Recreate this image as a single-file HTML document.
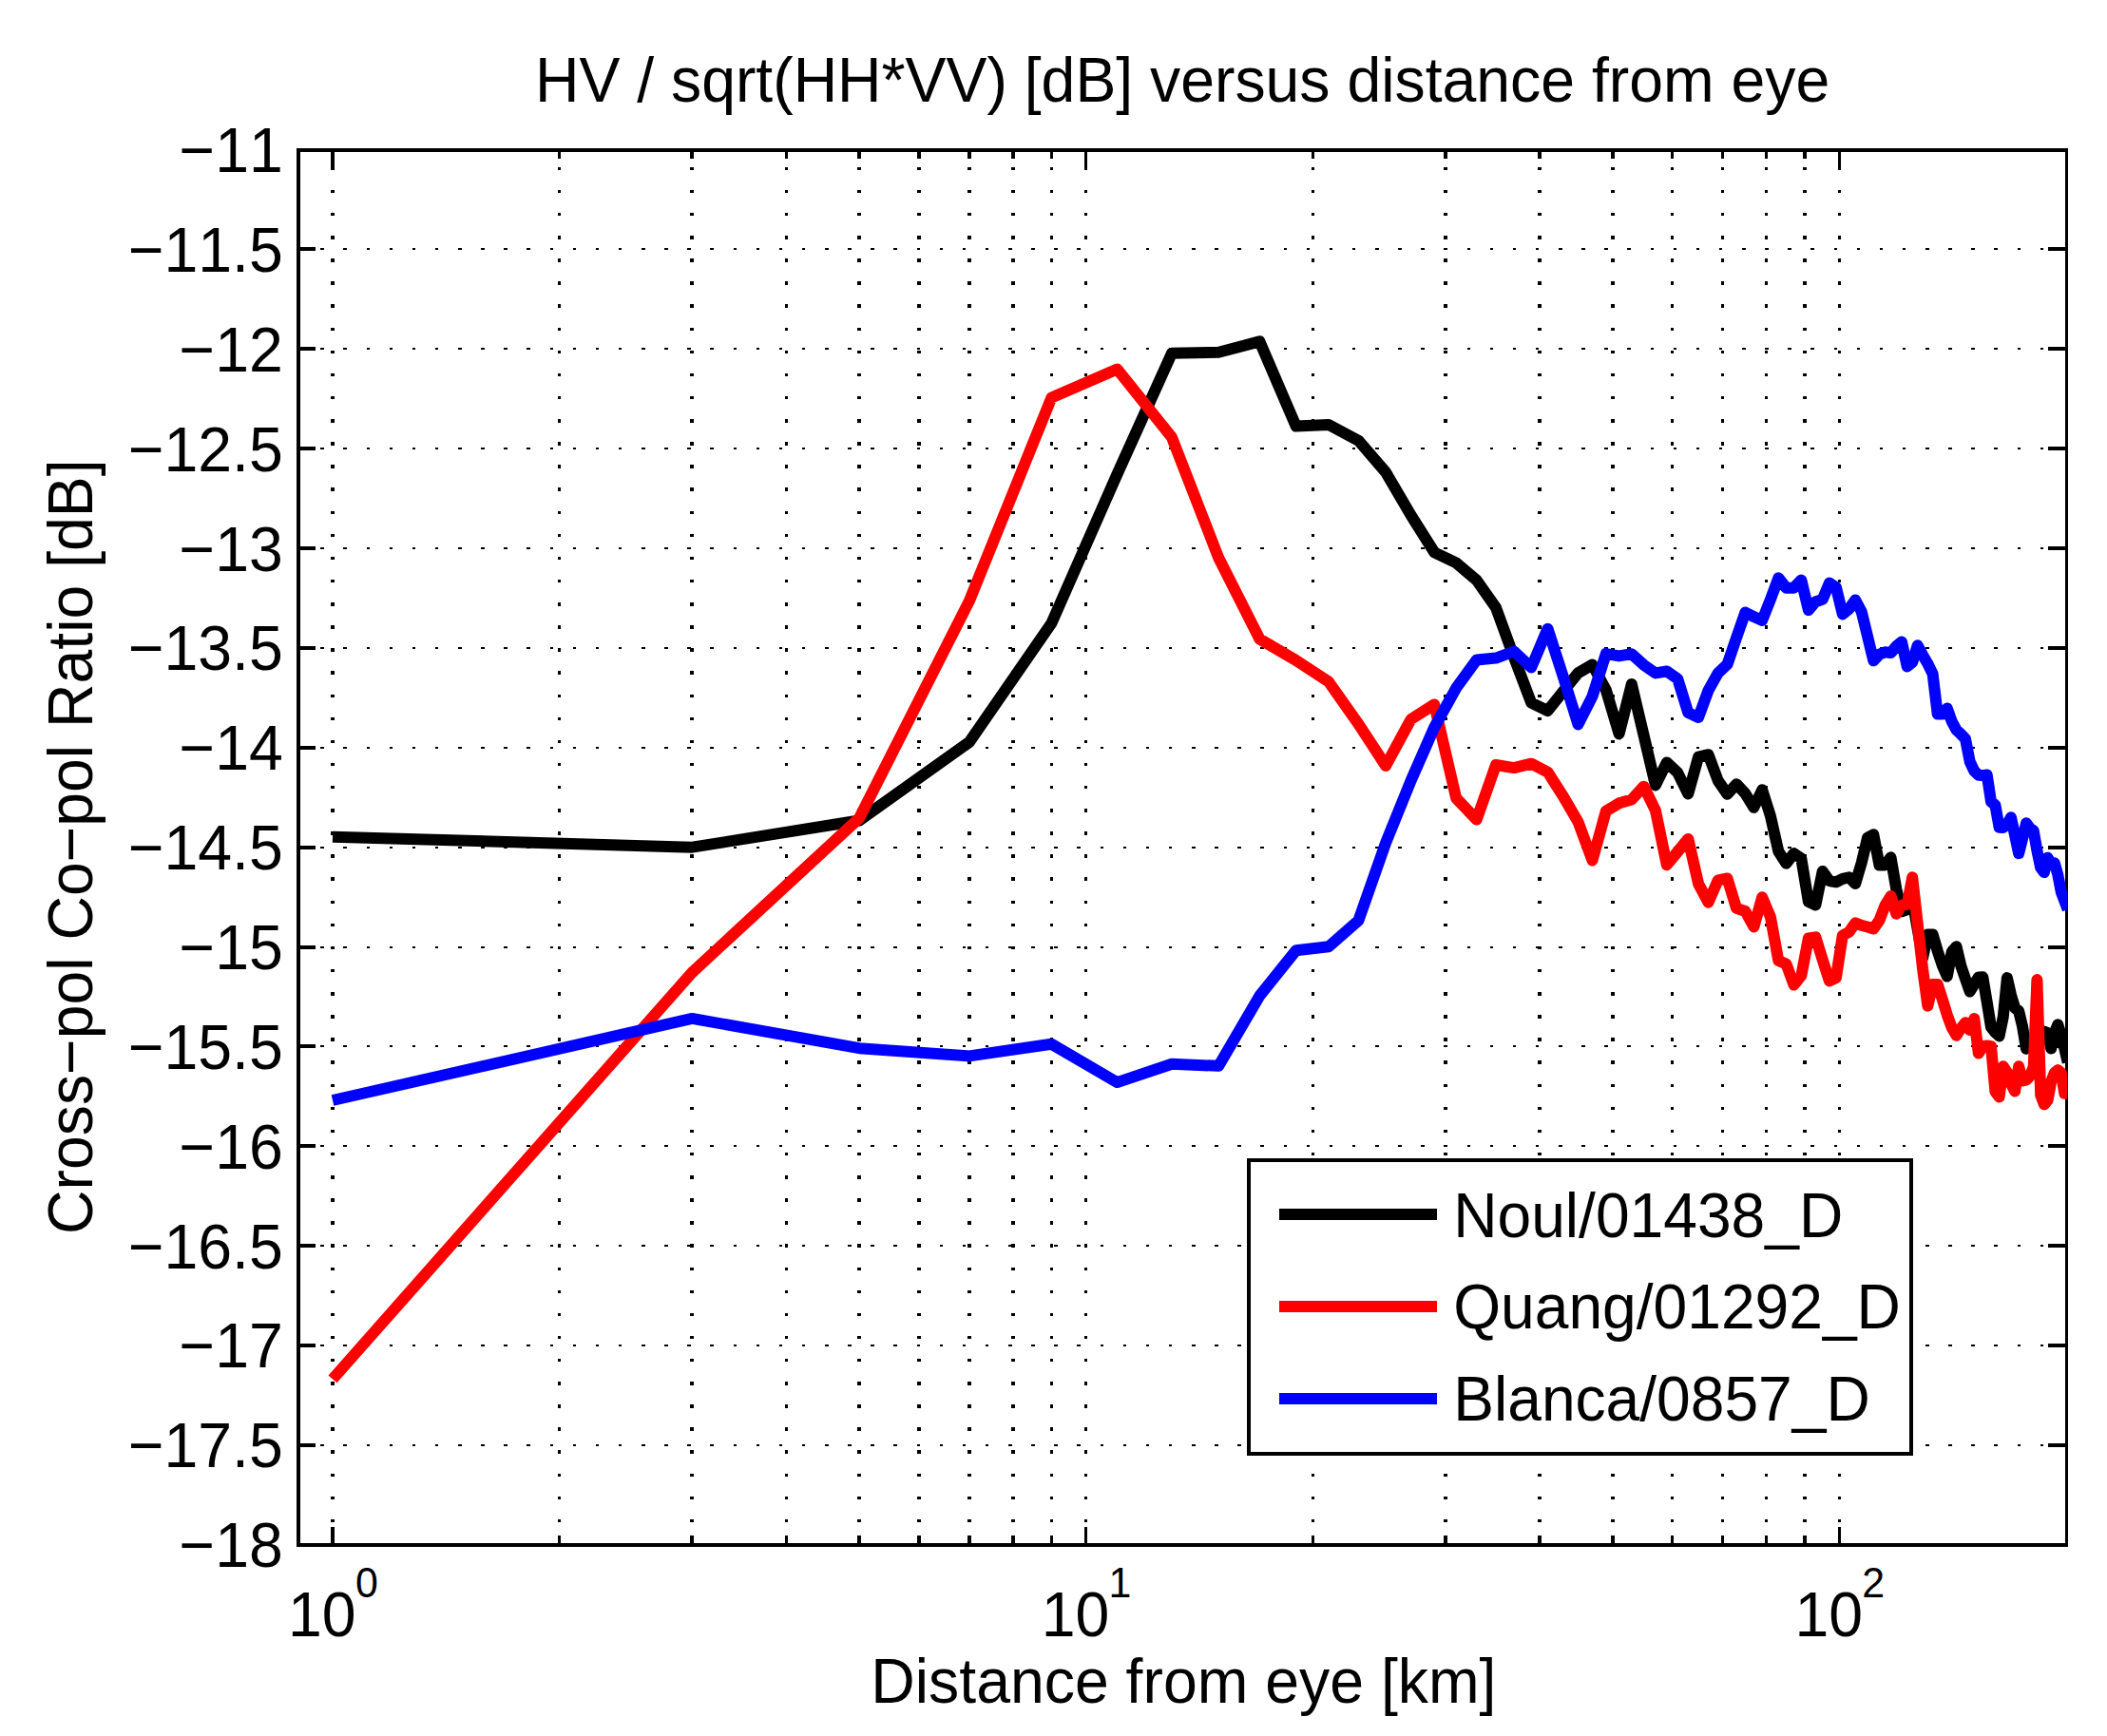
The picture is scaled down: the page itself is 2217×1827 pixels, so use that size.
<!DOCTYPE html>
<html lang="en"><head><meta charset="utf-8"><title>HV / sqrt(HH*VV) [dB] versus distance from eye</title>
<style>html,body{margin:0;padding:0;background:#fff;}body{width:2217px;height:1827px;overflow:hidden;}svg{display:block;}text{font-family:"Liberation Sans", sans-serif;fill:#000;font-kerning:none;font-variant-ligatures:none;}</style>
</head><body>
<svg width="2217" height="1827" viewBox="0 0 2217 1827">
<rect x="0" y="0" width="2217" height="1827" fill="#fff"/>
<defs><clipPath id="ax"><rect x="312" y="156" width="1863.3" height="1472"/></clipPath></defs>
<g id="grid" fill="#000" shape-rendering="crispEdges">
<rect x="348" y="176" width="4" height="3"/><rect x="348" y="200" width="4" height="3"/><rect x="348" y="224" width="4" height="3"/><rect x="348" y="248" width="4" height="4"/><rect x="348" y="272" width="4" height="4"/><rect x="348" y="296" width="4" height="4"/><rect x="348" y="320" width="4" height="4"/><rect x="348" y="345" width="4" height="3"/><rect x="348" y="369" width="4" height="3"/><rect x="348" y="393" width="4" height="3"/><rect x="348" y="417" width="4" height="3"/><rect x="348" y="441" width="4" height="4"/><rect x="348" y="465" width="4" height="4"/><rect x="348" y="489" width="4" height="4"/><rect x="348" y="513" width="4" height="4"/><rect x="348" y="538" width="4" height="3"/><rect x="348" y="562" width="4" height="3"/><rect x="348" y="586" width="4" height="3"/><rect x="348" y="610" width="4" height="3"/><rect x="348" y="634" width="4" height="4"/><rect x="348" y="658" width="4" height="4"/><rect x="348" y="682" width="4" height="4"/><rect x="348" y="706" width="4" height="4"/><rect x="348" y="731" width="4" height="3"/><rect x="348" y="755" width="4" height="3"/><rect x="348" y="779" width="4" height="3"/><rect x="348" y="803" width="4" height="3"/><rect x="348" y="827" width="4" height="3"/><rect x="348" y="851" width="4" height="4"/><rect x="348" y="875" width="4" height="4"/><rect x="348" y="899" width="4" height="4"/><rect x="348" y="923" width="4" height="4"/><rect x="348" y="948" width="4" height="3"/><rect x="348" y="972" width="4" height="3"/><rect x="348" y="996" width="4" height="3"/><rect x="348" y="1020" width="4" height="3"/><rect x="348" y="1044" width="4" height="4"/><rect x="348" y="1068" width="4" height="4"/><rect x="348" y="1092" width="4" height="4"/><rect x="348" y="1116" width="4" height="4"/><rect x="348" y="1141" width="4" height="3"/><rect x="348" y="1165" width="4" height="3"/><rect x="348" y="1189" width="4" height="3"/><rect x="348" y="1213" width="4" height="3"/><rect x="348" y="1237" width="4" height="4"/><rect x="348" y="1261" width="4" height="4"/><rect x="348" y="1285" width="4" height="4"/><rect x="348" y="1309" width="4" height="4"/><rect x="348" y="1334" width="4" height="3"/><rect x="348" y="1358" width="4" height="3"/><rect x="348" y="1382" width="4" height="3"/><rect x="348" y="1406" width="4" height="3"/><rect x="348" y="1430" width="4" height="3"/><rect x="348" y="1454" width="4" height="4"/><rect x="348" y="1478" width="4" height="4"/><rect x="348" y="1502" width="4" height="4"/><rect x="348" y="1526" width="4" height="4"/><rect x="348" y="1551" width="4" height="3"/><rect x="348" y="1575" width="4" height="3"/><rect x="348" y="1599" width="4" height="3"/><rect x="587" y="176" width="3" height="3"/><rect x="587" y="200" width="3" height="3"/><rect x="587" y="224" width="3" height="3"/><rect x="587" y="248" width="3" height="4"/><rect x="587" y="272" width="3" height="4"/><rect x="587" y="296" width="3" height="4"/><rect x="587" y="320" width="3" height="4"/><rect x="587" y="345" width="3" height="3"/><rect x="587" y="369" width="3" height="3"/><rect x="587" y="393" width="3" height="3"/><rect x="587" y="417" width="3" height="3"/><rect x="587" y="441" width="3" height="4"/><rect x="587" y="465" width="3" height="4"/><rect x="587" y="489" width="3" height="4"/><rect x="587" y="513" width="3" height="4"/><rect x="587" y="538" width="3" height="3"/><rect x="587" y="562" width="3" height="3"/><rect x="587" y="586" width="3" height="3"/><rect x="587" y="610" width="3" height="3"/><rect x="587" y="634" width="3" height="4"/><rect x="587" y="658" width="3" height="4"/><rect x="587" y="682" width="3" height="4"/><rect x="587" y="706" width="3" height="4"/><rect x="587" y="731" width="3" height="3"/><rect x="587" y="755" width="3" height="3"/><rect x="587" y="779" width="3" height="3"/><rect x="587" y="803" width="3" height="3"/><rect x="587" y="827" width="3" height="3"/><rect x="587" y="851" width="3" height="4"/><rect x="587" y="875" width="3" height="4"/><rect x="587" y="899" width="3" height="4"/><rect x="587" y="923" width="3" height="4"/><rect x="587" y="948" width="3" height="3"/><rect x="587" y="972" width="3" height="3"/><rect x="587" y="996" width="3" height="3"/><rect x="587" y="1020" width="3" height="3"/><rect x="587" y="1044" width="3" height="4"/><rect x="587" y="1068" width="3" height="4"/><rect x="587" y="1092" width="3" height="4"/><rect x="587" y="1116" width="3" height="4"/><rect x="587" y="1141" width="3" height="3"/><rect x="587" y="1165" width="3" height="3"/><rect x="587" y="1189" width="3" height="3"/><rect x="587" y="1213" width="3" height="3"/><rect x="587" y="1237" width="3" height="4"/><rect x="587" y="1261" width="3" height="4"/><rect x="587" y="1285" width="3" height="4"/><rect x="587" y="1309" width="3" height="4"/><rect x="587" y="1334" width="3" height="3"/><rect x="587" y="1358" width="3" height="3"/><rect x="587" y="1382" width="3" height="3"/><rect x="587" y="1406" width="3" height="3"/><rect x="587" y="1430" width="3" height="3"/><rect x="587" y="1454" width="3" height="4"/><rect x="587" y="1478" width="3" height="4"/><rect x="587" y="1502" width="3" height="4"/><rect x="587" y="1526" width="3" height="4"/><rect x="587" y="1551" width="3" height="3"/><rect x="587" y="1575" width="3" height="3"/><rect x="587" y="1599" width="3" height="3"/><rect x="726" y="176" width="4" height="3"/><rect x="726" y="200" width="4" height="3"/><rect x="726" y="224" width="4" height="3"/><rect x="726" y="248" width="4" height="4"/><rect x="726" y="272" width="4" height="4"/><rect x="726" y="296" width="4" height="4"/><rect x="726" y="320" width="4" height="4"/><rect x="726" y="345" width="4" height="3"/><rect x="726" y="369" width="4" height="3"/><rect x="726" y="393" width="4" height="3"/><rect x="726" y="417" width="4" height="3"/><rect x="726" y="441" width="4" height="4"/><rect x="726" y="465" width="4" height="4"/><rect x="726" y="489" width="4" height="4"/><rect x="726" y="513" width="4" height="4"/><rect x="726" y="538" width="4" height="3"/><rect x="726" y="562" width="4" height="3"/><rect x="726" y="586" width="4" height="3"/><rect x="726" y="610" width="4" height="3"/><rect x="726" y="634" width="4" height="4"/><rect x="726" y="658" width="4" height="4"/><rect x="726" y="682" width="4" height="4"/><rect x="726" y="706" width="4" height="4"/><rect x="726" y="731" width="4" height="3"/><rect x="726" y="755" width="4" height="3"/><rect x="726" y="779" width="4" height="3"/><rect x="726" y="803" width="4" height="3"/><rect x="726" y="827" width="4" height="3"/><rect x="726" y="851" width="4" height="4"/><rect x="726" y="875" width="4" height="4"/><rect x="726" y="899" width="4" height="4"/><rect x="726" y="923" width="4" height="4"/><rect x="726" y="948" width="4" height="3"/><rect x="726" y="972" width="4" height="3"/><rect x="726" y="996" width="4" height="3"/><rect x="726" y="1020" width="4" height="3"/><rect x="726" y="1044" width="4" height="4"/><rect x="726" y="1068" width="4" height="4"/><rect x="726" y="1092" width="4" height="4"/><rect x="726" y="1116" width="4" height="4"/><rect x="726" y="1141" width="4" height="3"/><rect x="726" y="1165" width="4" height="3"/><rect x="726" y="1189" width="4" height="3"/><rect x="726" y="1213" width="4" height="3"/><rect x="726" y="1237" width="4" height="4"/><rect x="726" y="1261" width="4" height="4"/><rect x="726" y="1285" width="4" height="4"/><rect x="726" y="1309" width="4" height="4"/><rect x="726" y="1334" width="4" height="3"/><rect x="726" y="1358" width="4" height="3"/><rect x="726" y="1382" width="4" height="3"/><rect x="726" y="1406" width="4" height="3"/><rect x="726" y="1430" width="4" height="3"/><rect x="726" y="1454" width="4" height="4"/><rect x="726" y="1478" width="4" height="4"/><rect x="726" y="1502" width="4" height="4"/><rect x="726" y="1526" width="4" height="4"/><rect x="726" y="1551" width="4" height="3"/><rect x="726" y="1575" width="4" height="3"/><rect x="726" y="1599" width="4" height="3"/><rect x="826" y="176" width="3" height="3"/><rect x="826" y="200" width="3" height="3"/><rect x="826" y="224" width="3" height="3"/><rect x="826" y="248" width="3" height="4"/><rect x="826" y="272" width="3" height="4"/><rect x="826" y="296" width="3" height="4"/><rect x="826" y="320" width="3" height="4"/><rect x="826" y="345" width="3" height="3"/><rect x="826" y="369" width="3" height="3"/><rect x="826" y="393" width="3" height="3"/><rect x="826" y="417" width="3" height="3"/><rect x="826" y="441" width="3" height="4"/><rect x="826" y="465" width="3" height="4"/><rect x="826" y="489" width="3" height="4"/><rect x="826" y="513" width="3" height="4"/><rect x="826" y="538" width="3" height="3"/><rect x="826" y="562" width="3" height="3"/><rect x="826" y="586" width="3" height="3"/><rect x="826" y="610" width="3" height="3"/><rect x="826" y="634" width="3" height="4"/><rect x="826" y="658" width="3" height="4"/><rect x="826" y="682" width="3" height="4"/><rect x="826" y="706" width="3" height="4"/><rect x="826" y="731" width="3" height="3"/><rect x="826" y="755" width="3" height="3"/><rect x="826" y="779" width="3" height="3"/><rect x="826" y="803" width="3" height="3"/><rect x="826" y="827" width="3" height="3"/><rect x="826" y="851" width="3" height="4"/><rect x="826" y="875" width="3" height="4"/><rect x="826" y="899" width="3" height="4"/><rect x="826" y="923" width="3" height="4"/><rect x="826" y="948" width="3" height="3"/><rect x="826" y="972" width="3" height="3"/><rect x="826" y="996" width="3" height="3"/><rect x="826" y="1020" width="3" height="3"/><rect x="826" y="1044" width="3" height="4"/><rect x="826" y="1068" width="3" height="4"/><rect x="826" y="1092" width="3" height="4"/><rect x="826" y="1116" width="3" height="4"/><rect x="826" y="1141" width="3" height="3"/><rect x="826" y="1165" width="3" height="3"/><rect x="826" y="1189" width="3" height="3"/><rect x="826" y="1213" width="3" height="3"/><rect x="826" y="1237" width="3" height="4"/><rect x="826" y="1261" width="3" height="4"/><rect x="826" y="1285" width="3" height="4"/><rect x="826" y="1309" width="3" height="4"/><rect x="826" y="1334" width="3" height="3"/><rect x="826" y="1358" width="3" height="3"/><rect x="826" y="1382" width="3" height="3"/><rect x="826" y="1406" width="3" height="3"/><rect x="826" y="1430" width="3" height="3"/><rect x="826" y="1454" width="3" height="4"/><rect x="826" y="1478" width="3" height="4"/><rect x="826" y="1502" width="3" height="4"/><rect x="826" y="1526" width="3" height="4"/><rect x="826" y="1551" width="3" height="3"/><rect x="826" y="1575" width="3" height="3"/><rect x="826" y="1599" width="3" height="3"/><rect x="902" y="176" width="4" height="3"/><rect x="902" y="200" width="4" height="3"/><rect x="902" y="224" width="4" height="3"/><rect x="902" y="248" width="4" height="4"/><rect x="902" y="272" width="4" height="4"/><rect x="902" y="296" width="4" height="4"/><rect x="902" y="320" width="4" height="4"/><rect x="902" y="345" width="4" height="3"/><rect x="902" y="369" width="4" height="3"/><rect x="902" y="393" width="4" height="3"/><rect x="902" y="417" width="4" height="3"/><rect x="902" y="441" width="4" height="4"/><rect x="902" y="465" width="4" height="4"/><rect x="902" y="489" width="4" height="4"/><rect x="902" y="513" width="4" height="4"/><rect x="902" y="538" width="4" height="3"/><rect x="902" y="562" width="4" height="3"/><rect x="902" y="586" width="4" height="3"/><rect x="902" y="610" width="4" height="3"/><rect x="902" y="634" width="4" height="4"/><rect x="902" y="658" width="4" height="4"/><rect x="902" y="682" width="4" height="4"/><rect x="902" y="706" width="4" height="4"/><rect x="902" y="731" width="4" height="3"/><rect x="902" y="755" width="4" height="3"/><rect x="902" y="779" width="4" height="3"/><rect x="902" y="803" width="4" height="3"/><rect x="902" y="827" width="4" height="3"/><rect x="902" y="851" width="4" height="4"/><rect x="902" y="875" width="4" height="4"/><rect x="902" y="899" width="4" height="4"/><rect x="902" y="923" width="4" height="4"/><rect x="902" y="948" width="4" height="3"/><rect x="902" y="972" width="4" height="3"/><rect x="902" y="996" width="4" height="3"/><rect x="902" y="1020" width="4" height="3"/><rect x="902" y="1044" width="4" height="4"/><rect x="902" y="1068" width="4" height="4"/><rect x="902" y="1092" width="4" height="4"/><rect x="902" y="1116" width="4" height="4"/><rect x="902" y="1141" width="4" height="3"/><rect x="902" y="1165" width="4" height="3"/><rect x="902" y="1189" width="4" height="3"/><rect x="902" y="1213" width="4" height="3"/><rect x="902" y="1237" width="4" height="4"/><rect x="902" y="1261" width="4" height="4"/><rect x="902" y="1285" width="4" height="4"/><rect x="902" y="1309" width="4" height="4"/><rect x="902" y="1334" width="4" height="3"/><rect x="902" y="1358" width="4" height="3"/><rect x="902" y="1382" width="4" height="3"/><rect x="902" y="1406" width="4" height="3"/><rect x="902" y="1430" width="4" height="3"/><rect x="902" y="1454" width="4" height="4"/><rect x="902" y="1478" width="4" height="4"/><rect x="902" y="1502" width="4" height="4"/><rect x="902" y="1526" width="4" height="4"/><rect x="902" y="1551" width="4" height="3"/><rect x="902" y="1575" width="4" height="3"/><rect x="902" y="1599" width="4" height="3"/><rect x="965" y="176" width="4" height="3"/><rect x="965" y="200" width="4" height="3"/><rect x="965" y="224" width="4" height="3"/><rect x="965" y="248" width="4" height="4"/><rect x="965" y="272" width="4" height="4"/><rect x="965" y="296" width="4" height="4"/><rect x="965" y="320" width="4" height="4"/><rect x="965" y="345" width="4" height="3"/><rect x="965" y="369" width="4" height="3"/><rect x="965" y="393" width="4" height="3"/><rect x="965" y="417" width="4" height="3"/><rect x="965" y="441" width="4" height="4"/><rect x="965" y="465" width="4" height="4"/><rect x="965" y="489" width="4" height="4"/><rect x="965" y="513" width="4" height="4"/><rect x="965" y="538" width="4" height="3"/><rect x="965" y="562" width="4" height="3"/><rect x="965" y="586" width="4" height="3"/><rect x="965" y="610" width="4" height="3"/><rect x="965" y="634" width="4" height="4"/><rect x="965" y="658" width="4" height="4"/><rect x="965" y="682" width="4" height="4"/><rect x="965" y="706" width="4" height="4"/><rect x="965" y="731" width="4" height="3"/><rect x="965" y="755" width="4" height="3"/><rect x="965" y="779" width="4" height="3"/><rect x="965" y="803" width="4" height="3"/><rect x="965" y="827" width="4" height="3"/><rect x="965" y="851" width="4" height="4"/><rect x="965" y="875" width="4" height="4"/><rect x="965" y="899" width="4" height="4"/><rect x="965" y="923" width="4" height="4"/><rect x="965" y="948" width="4" height="3"/><rect x="965" y="972" width="4" height="3"/><rect x="965" y="996" width="4" height="3"/><rect x="965" y="1020" width="4" height="3"/><rect x="965" y="1044" width="4" height="4"/><rect x="965" y="1068" width="4" height="4"/><rect x="965" y="1092" width="4" height="4"/><rect x="965" y="1116" width="4" height="4"/><rect x="965" y="1141" width="4" height="3"/><rect x="965" y="1165" width="4" height="3"/><rect x="965" y="1189" width="4" height="3"/><rect x="965" y="1213" width="4" height="3"/><rect x="965" y="1237" width="4" height="4"/><rect x="965" y="1261" width="4" height="4"/><rect x="965" y="1285" width="4" height="4"/><rect x="965" y="1309" width="4" height="4"/><rect x="965" y="1334" width="4" height="3"/><rect x="965" y="1358" width="4" height="3"/><rect x="965" y="1382" width="4" height="3"/><rect x="965" y="1406" width="4" height="3"/><rect x="965" y="1430" width="4" height="3"/><rect x="965" y="1454" width="4" height="4"/><rect x="965" y="1478" width="4" height="4"/><rect x="965" y="1502" width="4" height="4"/><rect x="965" y="1526" width="4" height="4"/><rect x="965" y="1551" width="4" height="3"/><rect x="965" y="1575" width="4" height="3"/><rect x="965" y="1599" width="4" height="3"/><rect x="1018" y="176" width="4" height="3"/><rect x="1018" y="200" width="4" height="3"/><rect x="1018" y="224" width="4" height="3"/><rect x="1018" y="248" width="4" height="4"/><rect x="1018" y="272" width="4" height="4"/><rect x="1018" y="296" width="4" height="4"/><rect x="1018" y="320" width="4" height="4"/><rect x="1018" y="345" width="4" height="3"/><rect x="1018" y="369" width="4" height="3"/><rect x="1018" y="393" width="4" height="3"/><rect x="1018" y="417" width="4" height="3"/><rect x="1018" y="441" width="4" height="4"/><rect x="1018" y="465" width="4" height="4"/><rect x="1018" y="489" width="4" height="4"/><rect x="1018" y="513" width="4" height="4"/><rect x="1018" y="538" width="4" height="3"/><rect x="1018" y="562" width="4" height="3"/><rect x="1018" y="586" width="4" height="3"/><rect x="1018" y="610" width="4" height="3"/><rect x="1018" y="634" width="4" height="4"/><rect x="1018" y="658" width="4" height="4"/><rect x="1018" y="682" width="4" height="4"/><rect x="1018" y="706" width="4" height="4"/><rect x="1018" y="731" width="4" height="3"/><rect x="1018" y="755" width="4" height="3"/><rect x="1018" y="779" width="4" height="3"/><rect x="1018" y="803" width="4" height="3"/><rect x="1018" y="827" width="4" height="3"/><rect x="1018" y="851" width="4" height="4"/><rect x="1018" y="875" width="4" height="4"/><rect x="1018" y="899" width="4" height="4"/><rect x="1018" y="923" width="4" height="4"/><rect x="1018" y="948" width="4" height="3"/><rect x="1018" y="972" width="4" height="3"/><rect x="1018" y="996" width="4" height="3"/><rect x="1018" y="1020" width="4" height="3"/><rect x="1018" y="1044" width="4" height="4"/><rect x="1018" y="1068" width="4" height="4"/><rect x="1018" y="1092" width="4" height="4"/><rect x="1018" y="1116" width="4" height="4"/><rect x="1018" y="1141" width="4" height="3"/><rect x="1018" y="1165" width="4" height="3"/><rect x="1018" y="1189" width="4" height="3"/><rect x="1018" y="1213" width="4" height="3"/><rect x="1018" y="1237" width="4" height="4"/><rect x="1018" y="1261" width="4" height="4"/><rect x="1018" y="1285" width="4" height="4"/><rect x="1018" y="1309" width="4" height="4"/><rect x="1018" y="1334" width="4" height="3"/><rect x="1018" y="1358" width="4" height="3"/><rect x="1018" y="1382" width="4" height="3"/><rect x="1018" y="1406" width="4" height="3"/><rect x="1018" y="1430" width="4" height="3"/><rect x="1018" y="1454" width="4" height="4"/><rect x="1018" y="1478" width="4" height="4"/><rect x="1018" y="1502" width="4" height="4"/><rect x="1018" y="1526" width="4" height="4"/><rect x="1018" y="1551" width="4" height="3"/><rect x="1018" y="1575" width="4" height="3"/><rect x="1018" y="1599" width="4" height="3"/><rect x="1064" y="176" width="4" height="3"/><rect x="1064" y="200" width="4" height="3"/><rect x="1064" y="224" width="4" height="3"/><rect x="1064" y="248" width="4" height="4"/><rect x="1064" y="272" width="4" height="4"/><rect x="1064" y="296" width="4" height="4"/><rect x="1064" y="320" width="4" height="4"/><rect x="1064" y="345" width="4" height="3"/><rect x="1064" y="369" width="4" height="3"/><rect x="1064" y="393" width="4" height="3"/><rect x="1064" y="417" width="4" height="3"/><rect x="1064" y="441" width="4" height="4"/><rect x="1064" y="465" width="4" height="4"/><rect x="1064" y="489" width="4" height="4"/><rect x="1064" y="513" width="4" height="4"/><rect x="1064" y="538" width="4" height="3"/><rect x="1064" y="562" width="4" height="3"/><rect x="1064" y="586" width="4" height="3"/><rect x="1064" y="610" width="4" height="3"/><rect x="1064" y="634" width="4" height="4"/><rect x="1064" y="658" width="4" height="4"/><rect x="1064" y="682" width="4" height="4"/><rect x="1064" y="706" width="4" height="4"/><rect x="1064" y="731" width="4" height="3"/><rect x="1064" y="755" width="4" height="3"/><rect x="1064" y="779" width="4" height="3"/><rect x="1064" y="803" width="4" height="3"/><rect x="1064" y="827" width="4" height="3"/><rect x="1064" y="851" width="4" height="4"/><rect x="1064" y="875" width="4" height="4"/><rect x="1064" y="899" width="4" height="4"/><rect x="1064" y="923" width="4" height="4"/><rect x="1064" y="948" width="4" height="3"/><rect x="1064" y="972" width="4" height="3"/><rect x="1064" y="996" width="4" height="3"/><rect x="1064" y="1020" width="4" height="3"/><rect x="1064" y="1044" width="4" height="4"/><rect x="1064" y="1068" width="4" height="4"/><rect x="1064" y="1092" width="4" height="4"/><rect x="1064" y="1116" width="4" height="4"/><rect x="1064" y="1141" width="4" height="3"/><rect x="1064" y="1165" width="4" height="3"/><rect x="1064" y="1189" width="4" height="3"/><rect x="1064" y="1213" width="4" height="3"/><rect x="1064" y="1237" width="4" height="4"/><rect x="1064" y="1261" width="4" height="4"/><rect x="1064" y="1285" width="4" height="4"/><rect x="1064" y="1309" width="4" height="4"/><rect x="1064" y="1334" width="4" height="3"/><rect x="1064" y="1358" width="4" height="3"/><rect x="1064" y="1382" width="4" height="3"/><rect x="1064" y="1406" width="4" height="3"/><rect x="1064" y="1430" width="4" height="3"/><rect x="1064" y="1454" width="4" height="4"/><rect x="1064" y="1478" width="4" height="4"/><rect x="1064" y="1502" width="4" height="4"/><rect x="1064" y="1526" width="4" height="4"/><rect x="1064" y="1551" width="4" height="3"/><rect x="1064" y="1575" width="4" height="3"/><rect x="1064" y="1599" width="4" height="3"/><rect x="1105" y="176" width="3" height="3"/><rect x="1105" y="200" width="3" height="3"/><rect x="1105" y="224" width="3" height="3"/><rect x="1105" y="248" width="3" height="4"/><rect x="1105" y="272" width="3" height="4"/><rect x="1105" y="296" width="3" height="4"/><rect x="1105" y="320" width="3" height="4"/><rect x="1105" y="345" width="3" height="3"/><rect x="1105" y="369" width="3" height="3"/><rect x="1105" y="393" width="3" height="3"/><rect x="1105" y="417" width="3" height="3"/><rect x="1105" y="441" width="3" height="4"/><rect x="1105" y="465" width="3" height="4"/><rect x="1105" y="489" width="3" height="4"/><rect x="1105" y="513" width="3" height="4"/><rect x="1105" y="538" width="3" height="3"/><rect x="1105" y="562" width="3" height="3"/><rect x="1105" y="586" width="3" height="3"/><rect x="1105" y="610" width="3" height="3"/><rect x="1105" y="634" width="3" height="4"/><rect x="1105" y="658" width="3" height="4"/><rect x="1105" y="682" width="3" height="4"/><rect x="1105" y="706" width="3" height="4"/><rect x="1105" y="731" width="3" height="3"/><rect x="1105" y="755" width="3" height="3"/><rect x="1105" y="779" width="3" height="3"/><rect x="1105" y="803" width="3" height="3"/><rect x="1105" y="827" width="3" height="3"/><rect x="1105" y="851" width="3" height="4"/><rect x="1105" y="875" width="3" height="4"/><rect x="1105" y="899" width="3" height="4"/><rect x="1105" y="923" width="3" height="4"/><rect x="1105" y="948" width="3" height="3"/><rect x="1105" y="972" width="3" height="3"/><rect x="1105" y="996" width="3" height="3"/><rect x="1105" y="1020" width="3" height="3"/><rect x="1105" y="1044" width="3" height="4"/><rect x="1105" y="1068" width="3" height="4"/><rect x="1105" y="1092" width="3" height="4"/><rect x="1105" y="1116" width="3" height="4"/><rect x="1105" y="1141" width="3" height="3"/><rect x="1105" y="1165" width="3" height="3"/><rect x="1105" y="1189" width="3" height="3"/><rect x="1105" y="1213" width="3" height="3"/><rect x="1105" y="1237" width="3" height="4"/><rect x="1105" y="1261" width="3" height="4"/><rect x="1105" y="1285" width="3" height="4"/><rect x="1105" y="1309" width="3" height="4"/><rect x="1105" y="1334" width="3" height="3"/><rect x="1105" y="1358" width="3" height="3"/><rect x="1105" y="1382" width="3" height="3"/><rect x="1105" y="1406" width="3" height="3"/><rect x="1105" y="1430" width="3" height="3"/><rect x="1105" y="1454" width="3" height="4"/><rect x="1105" y="1478" width="3" height="4"/><rect x="1105" y="1502" width="3" height="4"/><rect x="1105" y="1526" width="3" height="4"/><rect x="1105" y="1551" width="3" height="3"/><rect x="1105" y="1575" width="3" height="3"/><rect x="1105" y="1599" width="3" height="3"/><rect x="1141" y="176" width="3" height="3"/><rect x="1141" y="200" width="3" height="3"/><rect x="1141" y="224" width="3" height="3"/><rect x="1141" y="248" width="3" height="4"/><rect x="1141" y="272" width="3" height="4"/><rect x="1141" y="296" width="3" height="4"/><rect x="1141" y="320" width="3" height="4"/><rect x="1141" y="345" width="3" height="3"/><rect x="1141" y="369" width="3" height="3"/><rect x="1141" y="393" width="3" height="3"/><rect x="1141" y="417" width="3" height="3"/><rect x="1141" y="441" width="3" height="4"/><rect x="1141" y="465" width="3" height="4"/><rect x="1141" y="489" width="3" height="4"/><rect x="1141" y="513" width="3" height="4"/><rect x="1141" y="538" width="3" height="3"/><rect x="1141" y="562" width="3" height="3"/><rect x="1141" y="586" width="3" height="3"/><rect x="1141" y="610" width="3" height="3"/><rect x="1141" y="634" width="3" height="4"/><rect x="1141" y="658" width="3" height="4"/><rect x="1141" y="682" width="3" height="4"/><rect x="1141" y="706" width="3" height="4"/><rect x="1141" y="731" width="3" height="3"/><rect x="1141" y="755" width="3" height="3"/><rect x="1141" y="779" width="3" height="3"/><rect x="1141" y="803" width="3" height="3"/><rect x="1141" y="827" width="3" height="3"/><rect x="1141" y="851" width="3" height="4"/><rect x="1141" y="875" width="3" height="4"/><rect x="1141" y="899" width="3" height="4"/><rect x="1141" y="923" width="3" height="4"/><rect x="1141" y="948" width="3" height="3"/><rect x="1141" y="972" width="3" height="3"/><rect x="1141" y="996" width="3" height="3"/><rect x="1141" y="1020" width="3" height="3"/><rect x="1141" y="1044" width="3" height="4"/><rect x="1141" y="1068" width="3" height="4"/><rect x="1141" y="1092" width="3" height="4"/><rect x="1141" y="1116" width="3" height="4"/><rect x="1141" y="1141" width="3" height="3"/><rect x="1141" y="1165" width="3" height="3"/><rect x="1141" y="1189" width="3" height="3"/><rect x="1141" y="1213" width="3" height="3"/><rect x="1141" y="1237" width="3" height="4"/><rect x="1141" y="1261" width="3" height="4"/><rect x="1141" y="1285" width="3" height="4"/><rect x="1141" y="1309" width="3" height="4"/><rect x="1141" y="1334" width="3" height="3"/><rect x="1141" y="1358" width="3" height="3"/><rect x="1141" y="1382" width="3" height="3"/><rect x="1141" y="1406" width="3" height="3"/><rect x="1141" y="1430" width="3" height="3"/><rect x="1141" y="1454" width="3" height="4"/><rect x="1141" y="1478" width="3" height="4"/><rect x="1141" y="1502" width="3" height="4"/><rect x="1141" y="1526" width="3" height="4"/><rect x="1141" y="1551" width="3" height="3"/><rect x="1141" y="1575" width="3" height="3"/><rect x="1141" y="1599" width="3" height="3"/><rect x="1380" y="176" width="3" height="3"/><rect x="1380" y="200" width="3" height="3"/><rect x="1380" y="224" width="3" height="3"/><rect x="1380" y="248" width="3" height="4"/><rect x="1380" y="272" width="3" height="4"/><rect x="1380" y="296" width="3" height="4"/><rect x="1380" y="320" width="3" height="4"/><rect x="1380" y="345" width="3" height="3"/><rect x="1380" y="369" width="3" height="3"/><rect x="1380" y="393" width="3" height="3"/><rect x="1380" y="417" width="3" height="3"/><rect x="1380" y="441" width="3" height="4"/><rect x="1380" y="465" width="3" height="4"/><rect x="1380" y="489" width="3" height="4"/><rect x="1380" y="513" width="3" height="4"/><rect x="1380" y="538" width="3" height="3"/><rect x="1380" y="562" width="3" height="3"/><rect x="1380" y="586" width="3" height="3"/><rect x="1380" y="610" width="3" height="3"/><rect x="1380" y="634" width="3" height="4"/><rect x="1380" y="658" width="3" height="4"/><rect x="1380" y="682" width="3" height="4"/><rect x="1380" y="706" width="3" height="4"/><rect x="1380" y="731" width="3" height="3"/><rect x="1380" y="755" width="3" height="3"/><rect x="1380" y="779" width="3" height="3"/><rect x="1380" y="803" width="3" height="3"/><rect x="1380" y="827" width="3" height="3"/><rect x="1380" y="851" width="3" height="4"/><rect x="1380" y="875" width="3" height="4"/><rect x="1380" y="899" width="3" height="4"/><rect x="1380" y="923" width="3" height="4"/><rect x="1380" y="948" width="3" height="3"/><rect x="1380" y="972" width="3" height="3"/><rect x="1380" y="996" width="3" height="3"/><rect x="1380" y="1020" width="3" height="3"/><rect x="1380" y="1044" width="3" height="4"/><rect x="1380" y="1068" width="3" height="4"/><rect x="1380" y="1092" width="3" height="4"/><rect x="1380" y="1116" width="3" height="4"/><rect x="1380" y="1141" width="3" height="3"/><rect x="1380" y="1165" width="3" height="3"/><rect x="1380" y="1189" width="3" height="3"/><rect x="1380" y="1213" width="3" height="3"/><rect x="1380" y="1237" width="3" height="4"/><rect x="1380" y="1261" width="3" height="4"/><rect x="1380" y="1285" width="3" height="4"/><rect x="1380" y="1309" width="3" height="4"/><rect x="1380" y="1334" width="3" height="3"/><rect x="1380" y="1358" width="3" height="3"/><rect x="1380" y="1382" width="3" height="3"/><rect x="1380" y="1406" width="3" height="3"/><rect x="1380" y="1430" width="3" height="3"/><rect x="1380" y="1454" width="3" height="4"/><rect x="1380" y="1478" width="3" height="4"/><rect x="1380" y="1502" width="3" height="4"/><rect x="1380" y="1526" width="3" height="4"/><rect x="1380" y="1551" width="3" height="3"/><rect x="1380" y="1575" width="3" height="3"/><rect x="1380" y="1599" width="3" height="3"/><rect x="1519" y="176" width="4" height="3"/><rect x="1519" y="200" width="4" height="3"/><rect x="1519" y="224" width="4" height="3"/><rect x="1519" y="248" width="4" height="4"/><rect x="1519" y="272" width="4" height="4"/><rect x="1519" y="296" width="4" height="4"/><rect x="1519" y="320" width="4" height="4"/><rect x="1519" y="345" width="4" height="3"/><rect x="1519" y="369" width="4" height="3"/><rect x="1519" y="393" width="4" height="3"/><rect x="1519" y="417" width="4" height="3"/><rect x="1519" y="441" width="4" height="4"/><rect x="1519" y="465" width="4" height="4"/><rect x="1519" y="489" width="4" height="4"/><rect x="1519" y="513" width="4" height="4"/><rect x="1519" y="538" width="4" height="3"/><rect x="1519" y="562" width="4" height="3"/><rect x="1519" y="586" width="4" height="3"/><rect x="1519" y="610" width="4" height="3"/><rect x="1519" y="634" width="4" height="4"/><rect x="1519" y="658" width="4" height="4"/><rect x="1519" y="682" width="4" height="4"/><rect x="1519" y="706" width="4" height="4"/><rect x="1519" y="731" width="4" height="3"/><rect x="1519" y="755" width="4" height="3"/><rect x="1519" y="779" width="4" height="3"/><rect x="1519" y="803" width="4" height="3"/><rect x="1519" y="827" width="4" height="3"/><rect x="1519" y="851" width="4" height="4"/><rect x="1519" y="875" width="4" height="4"/><rect x="1519" y="899" width="4" height="4"/><rect x="1519" y="923" width="4" height="4"/><rect x="1519" y="948" width="4" height="3"/><rect x="1519" y="972" width="4" height="3"/><rect x="1519" y="996" width="4" height="3"/><rect x="1519" y="1020" width="4" height="3"/><rect x="1519" y="1044" width="4" height="4"/><rect x="1519" y="1068" width="4" height="4"/><rect x="1519" y="1092" width="4" height="4"/><rect x="1519" y="1116" width="4" height="4"/><rect x="1519" y="1141" width="4" height="3"/><rect x="1519" y="1165" width="4" height="3"/><rect x="1519" y="1189" width="4" height="3"/><rect x="1519" y="1213" width="4" height="3"/><rect x="1519" y="1237" width="4" height="4"/><rect x="1519" y="1261" width="4" height="4"/><rect x="1519" y="1285" width="4" height="4"/><rect x="1519" y="1309" width="4" height="4"/><rect x="1519" y="1334" width="4" height="3"/><rect x="1519" y="1358" width="4" height="3"/><rect x="1519" y="1382" width="4" height="3"/><rect x="1519" y="1406" width="4" height="3"/><rect x="1519" y="1430" width="4" height="3"/><rect x="1519" y="1454" width="4" height="4"/><rect x="1519" y="1478" width="4" height="4"/><rect x="1519" y="1502" width="4" height="4"/><rect x="1519" y="1526" width="4" height="4"/><rect x="1519" y="1551" width="4" height="3"/><rect x="1519" y="1575" width="4" height="3"/><rect x="1519" y="1599" width="4" height="3"/><rect x="1618" y="176" width="4" height="3"/><rect x="1618" y="200" width="4" height="3"/><rect x="1618" y="224" width="4" height="3"/><rect x="1618" y="248" width="4" height="4"/><rect x="1618" y="272" width="4" height="4"/><rect x="1618" y="296" width="4" height="4"/><rect x="1618" y="320" width="4" height="4"/><rect x="1618" y="345" width="4" height="3"/><rect x="1618" y="369" width="4" height="3"/><rect x="1618" y="393" width="4" height="3"/><rect x="1618" y="417" width="4" height="3"/><rect x="1618" y="441" width="4" height="4"/><rect x="1618" y="465" width="4" height="4"/><rect x="1618" y="489" width="4" height="4"/><rect x="1618" y="513" width="4" height="4"/><rect x="1618" y="538" width="4" height="3"/><rect x="1618" y="562" width="4" height="3"/><rect x="1618" y="586" width="4" height="3"/><rect x="1618" y="610" width="4" height="3"/><rect x="1618" y="634" width="4" height="4"/><rect x="1618" y="658" width="4" height="4"/><rect x="1618" y="682" width="4" height="4"/><rect x="1618" y="706" width="4" height="4"/><rect x="1618" y="731" width="4" height="3"/><rect x="1618" y="755" width="4" height="3"/><rect x="1618" y="779" width="4" height="3"/><rect x="1618" y="803" width="4" height="3"/><rect x="1618" y="827" width="4" height="3"/><rect x="1618" y="851" width="4" height="4"/><rect x="1618" y="875" width="4" height="4"/><rect x="1618" y="899" width="4" height="4"/><rect x="1618" y="923" width="4" height="4"/><rect x="1618" y="948" width="4" height="3"/><rect x="1618" y="972" width="4" height="3"/><rect x="1618" y="996" width="4" height="3"/><rect x="1618" y="1020" width="4" height="3"/><rect x="1618" y="1044" width="4" height="4"/><rect x="1618" y="1068" width="4" height="4"/><rect x="1618" y="1092" width="4" height="4"/><rect x="1618" y="1116" width="4" height="4"/><rect x="1618" y="1141" width="4" height="3"/><rect x="1618" y="1165" width="4" height="3"/><rect x="1618" y="1189" width="4" height="3"/><rect x="1618" y="1213" width="4" height="3"/><rect x="1618" y="1237" width="4" height="4"/><rect x="1618" y="1261" width="4" height="4"/><rect x="1618" y="1285" width="4" height="4"/><rect x="1618" y="1309" width="4" height="4"/><rect x="1618" y="1334" width="4" height="3"/><rect x="1618" y="1358" width="4" height="3"/><rect x="1618" y="1382" width="4" height="3"/><rect x="1618" y="1406" width="4" height="3"/><rect x="1618" y="1430" width="4" height="3"/><rect x="1618" y="1454" width="4" height="4"/><rect x="1618" y="1478" width="4" height="4"/><rect x="1618" y="1502" width="4" height="4"/><rect x="1618" y="1526" width="4" height="4"/><rect x="1618" y="1551" width="4" height="3"/><rect x="1618" y="1575" width="4" height="3"/><rect x="1618" y="1599" width="4" height="3"/><rect x="1695" y="176" width="4" height="3"/><rect x="1695" y="200" width="4" height="3"/><rect x="1695" y="224" width="4" height="3"/><rect x="1695" y="248" width="4" height="4"/><rect x="1695" y="272" width="4" height="4"/><rect x="1695" y="296" width="4" height="4"/><rect x="1695" y="320" width="4" height="4"/><rect x="1695" y="345" width="4" height="3"/><rect x="1695" y="369" width="4" height="3"/><rect x="1695" y="393" width="4" height="3"/><rect x="1695" y="417" width="4" height="3"/><rect x="1695" y="441" width="4" height="4"/><rect x="1695" y="465" width="4" height="4"/><rect x="1695" y="489" width="4" height="4"/><rect x="1695" y="513" width="4" height="4"/><rect x="1695" y="538" width="4" height="3"/><rect x="1695" y="562" width="4" height="3"/><rect x="1695" y="586" width="4" height="3"/><rect x="1695" y="610" width="4" height="3"/><rect x="1695" y="634" width="4" height="4"/><rect x="1695" y="658" width="4" height="4"/><rect x="1695" y="682" width="4" height="4"/><rect x="1695" y="706" width="4" height="4"/><rect x="1695" y="731" width="4" height="3"/><rect x="1695" y="755" width="4" height="3"/><rect x="1695" y="779" width="4" height="3"/><rect x="1695" y="803" width="4" height="3"/><rect x="1695" y="827" width="4" height="3"/><rect x="1695" y="851" width="4" height="4"/><rect x="1695" y="875" width="4" height="4"/><rect x="1695" y="899" width="4" height="4"/><rect x="1695" y="923" width="4" height="4"/><rect x="1695" y="948" width="4" height="3"/><rect x="1695" y="972" width="4" height="3"/><rect x="1695" y="996" width="4" height="3"/><rect x="1695" y="1020" width="4" height="3"/><rect x="1695" y="1044" width="4" height="4"/><rect x="1695" y="1068" width="4" height="4"/><rect x="1695" y="1092" width="4" height="4"/><rect x="1695" y="1116" width="4" height="4"/><rect x="1695" y="1141" width="4" height="3"/><rect x="1695" y="1165" width="4" height="3"/><rect x="1695" y="1189" width="4" height="3"/><rect x="1695" y="1213" width="4" height="3"/><rect x="1695" y="1237" width="4" height="4"/><rect x="1695" y="1261" width="4" height="4"/><rect x="1695" y="1285" width="4" height="4"/><rect x="1695" y="1309" width="4" height="4"/><rect x="1695" y="1334" width="4" height="3"/><rect x="1695" y="1358" width="4" height="3"/><rect x="1695" y="1382" width="4" height="3"/><rect x="1695" y="1406" width="4" height="3"/><rect x="1695" y="1430" width="4" height="3"/><rect x="1695" y="1454" width="4" height="4"/><rect x="1695" y="1478" width="4" height="4"/><rect x="1695" y="1502" width="4" height="4"/><rect x="1695" y="1526" width="4" height="4"/><rect x="1695" y="1551" width="4" height="3"/><rect x="1695" y="1575" width="4" height="3"/><rect x="1695" y="1599" width="4" height="3"/><rect x="1758" y="176" width="3" height="3"/><rect x="1758" y="200" width="3" height="3"/><rect x="1758" y="224" width="3" height="3"/><rect x="1758" y="248" width="3" height="4"/><rect x="1758" y="272" width="3" height="4"/><rect x="1758" y="296" width="3" height="4"/><rect x="1758" y="320" width="3" height="4"/><rect x="1758" y="345" width="3" height="3"/><rect x="1758" y="369" width="3" height="3"/><rect x="1758" y="393" width="3" height="3"/><rect x="1758" y="417" width="3" height="3"/><rect x="1758" y="441" width="3" height="4"/><rect x="1758" y="465" width="3" height="4"/><rect x="1758" y="489" width="3" height="4"/><rect x="1758" y="513" width="3" height="4"/><rect x="1758" y="538" width="3" height="3"/><rect x="1758" y="562" width="3" height="3"/><rect x="1758" y="586" width="3" height="3"/><rect x="1758" y="610" width="3" height="3"/><rect x="1758" y="634" width="3" height="4"/><rect x="1758" y="658" width="3" height="4"/><rect x="1758" y="682" width="3" height="4"/><rect x="1758" y="706" width="3" height="4"/><rect x="1758" y="731" width="3" height="3"/><rect x="1758" y="755" width="3" height="3"/><rect x="1758" y="779" width="3" height="3"/><rect x="1758" y="803" width="3" height="3"/><rect x="1758" y="827" width="3" height="3"/><rect x="1758" y="851" width="3" height="4"/><rect x="1758" y="875" width="3" height="4"/><rect x="1758" y="899" width="3" height="4"/><rect x="1758" y="923" width="3" height="4"/><rect x="1758" y="948" width="3" height="3"/><rect x="1758" y="972" width="3" height="3"/><rect x="1758" y="996" width="3" height="3"/><rect x="1758" y="1020" width="3" height="3"/><rect x="1758" y="1044" width="3" height="4"/><rect x="1758" y="1068" width="3" height="4"/><rect x="1758" y="1092" width="3" height="4"/><rect x="1758" y="1116" width="3" height="4"/><rect x="1758" y="1141" width="3" height="3"/><rect x="1758" y="1165" width="3" height="3"/><rect x="1758" y="1189" width="3" height="3"/><rect x="1758" y="1213" width="3" height="3"/><rect x="1758" y="1237" width="3" height="4"/><rect x="1758" y="1261" width="3" height="4"/><rect x="1758" y="1285" width="3" height="4"/><rect x="1758" y="1309" width="3" height="4"/><rect x="1758" y="1334" width="3" height="3"/><rect x="1758" y="1358" width="3" height="3"/><rect x="1758" y="1382" width="3" height="3"/><rect x="1758" y="1406" width="3" height="3"/><rect x="1758" y="1430" width="3" height="3"/><rect x="1758" y="1454" width="3" height="4"/><rect x="1758" y="1478" width="3" height="4"/><rect x="1758" y="1502" width="3" height="4"/><rect x="1758" y="1526" width="3" height="4"/><rect x="1758" y="1551" width="3" height="3"/><rect x="1758" y="1575" width="3" height="3"/><rect x="1758" y="1599" width="3" height="3"/><rect x="1811" y="176" width="3" height="3"/><rect x="1811" y="200" width="3" height="3"/><rect x="1811" y="224" width="3" height="3"/><rect x="1811" y="248" width="3" height="4"/><rect x="1811" y="272" width="3" height="4"/><rect x="1811" y="296" width="3" height="4"/><rect x="1811" y="320" width="3" height="4"/><rect x="1811" y="345" width="3" height="3"/><rect x="1811" y="369" width="3" height="3"/><rect x="1811" y="393" width="3" height="3"/><rect x="1811" y="417" width="3" height="3"/><rect x="1811" y="441" width="3" height="4"/><rect x="1811" y="465" width="3" height="4"/><rect x="1811" y="489" width="3" height="4"/><rect x="1811" y="513" width="3" height="4"/><rect x="1811" y="538" width="3" height="3"/><rect x="1811" y="562" width="3" height="3"/><rect x="1811" y="586" width="3" height="3"/><rect x="1811" y="610" width="3" height="3"/><rect x="1811" y="634" width="3" height="4"/><rect x="1811" y="658" width="3" height="4"/><rect x="1811" y="682" width="3" height="4"/><rect x="1811" y="706" width="3" height="4"/><rect x="1811" y="731" width="3" height="3"/><rect x="1811" y="755" width="3" height="3"/><rect x="1811" y="779" width="3" height="3"/><rect x="1811" y="803" width="3" height="3"/><rect x="1811" y="827" width="3" height="3"/><rect x="1811" y="851" width="3" height="4"/><rect x="1811" y="875" width="3" height="4"/><rect x="1811" y="899" width="3" height="4"/><rect x="1811" y="923" width="3" height="4"/><rect x="1811" y="948" width="3" height="3"/><rect x="1811" y="972" width="3" height="3"/><rect x="1811" y="996" width="3" height="3"/><rect x="1811" y="1020" width="3" height="3"/><rect x="1811" y="1044" width="3" height="4"/><rect x="1811" y="1068" width="3" height="4"/><rect x="1811" y="1092" width="3" height="4"/><rect x="1811" y="1116" width="3" height="4"/><rect x="1811" y="1141" width="3" height="3"/><rect x="1811" y="1165" width="3" height="3"/><rect x="1811" y="1189" width="3" height="3"/><rect x="1811" y="1213" width="3" height="3"/><rect x="1811" y="1237" width="3" height="4"/><rect x="1811" y="1261" width="3" height="4"/><rect x="1811" y="1285" width="3" height="4"/><rect x="1811" y="1309" width="3" height="4"/><rect x="1811" y="1334" width="3" height="3"/><rect x="1811" y="1358" width="3" height="3"/><rect x="1811" y="1382" width="3" height="3"/><rect x="1811" y="1406" width="3" height="3"/><rect x="1811" y="1430" width="3" height="3"/><rect x="1811" y="1454" width="3" height="4"/><rect x="1811" y="1478" width="3" height="4"/><rect x="1811" y="1502" width="3" height="4"/><rect x="1811" y="1526" width="3" height="4"/><rect x="1811" y="1551" width="3" height="3"/><rect x="1811" y="1575" width="3" height="3"/><rect x="1811" y="1599" width="3" height="3"/><rect x="1857" y="176" width="3" height="3"/><rect x="1857" y="200" width="3" height="3"/><rect x="1857" y="224" width="3" height="3"/><rect x="1857" y="248" width="3" height="4"/><rect x="1857" y="272" width="3" height="4"/><rect x="1857" y="296" width="3" height="4"/><rect x="1857" y="320" width="3" height="4"/><rect x="1857" y="345" width="3" height="3"/><rect x="1857" y="369" width="3" height="3"/><rect x="1857" y="393" width="3" height="3"/><rect x="1857" y="417" width="3" height="3"/><rect x="1857" y="441" width="3" height="4"/><rect x="1857" y="465" width="3" height="4"/><rect x="1857" y="489" width="3" height="4"/><rect x="1857" y="513" width="3" height="4"/><rect x="1857" y="538" width="3" height="3"/><rect x="1857" y="562" width="3" height="3"/><rect x="1857" y="586" width="3" height="3"/><rect x="1857" y="610" width="3" height="3"/><rect x="1857" y="634" width="3" height="4"/><rect x="1857" y="658" width="3" height="4"/><rect x="1857" y="682" width="3" height="4"/><rect x="1857" y="706" width="3" height="4"/><rect x="1857" y="731" width="3" height="3"/><rect x="1857" y="755" width="3" height="3"/><rect x="1857" y="779" width="3" height="3"/><rect x="1857" y="803" width="3" height="3"/><rect x="1857" y="827" width="3" height="3"/><rect x="1857" y="851" width="3" height="4"/><rect x="1857" y="875" width="3" height="4"/><rect x="1857" y="899" width="3" height="4"/><rect x="1857" y="923" width="3" height="4"/><rect x="1857" y="948" width="3" height="3"/><rect x="1857" y="972" width="3" height="3"/><rect x="1857" y="996" width="3" height="3"/><rect x="1857" y="1020" width="3" height="3"/><rect x="1857" y="1044" width="3" height="4"/><rect x="1857" y="1068" width="3" height="4"/><rect x="1857" y="1092" width="3" height="4"/><rect x="1857" y="1116" width="3" height="4"/><rect x="1857" y="1141" width="3" height="3"/><rect x="1857" y="1165" width="3" height="3"/><rect x="1857" y="1189" width="3" height="3"/><rect x="1857" y="1213" width="3" height="3"/><rect x="1857" y="1237" width="3" height="4"/><rect x="1857" y="1261" width="3" height="4"/><rect x="1857" y="1285" width="3" height="4"/><rect x="1857" y="1309" width="3" height="4"/><rect x="1857" y="1334" width="3" height="3"/><rect x="1857" y="1358" width="3" height="3"/><rect x="1857" y="1382" width="3" height="3"/><rect x="1857" y="1406" width="3" height="3"/><rect x="1857" y="1430" width="3" height="3"/><rect x="1857" y="1454" width="3" height="4"/><rect x="1857" y="1478" width="3" height="4"/><rect x="1857" y="1502" width="3" height="4"/><rect x="1857" y="1526" width="3" height="4"/><rect x="1857" y="1551" width="3" height="3"/><rect x="1857" y="1575" width="3" height="3"/><rect x="1857" y="1599" width="3" height="3"/><rect x="1897" y="176" width="4" height="3"/><rect x="1897" y="200" width="4" height="3"/><rect x="1897" y="224" width="4" height="3"/><rect x="1897" y="248" width="4" height="4"/><rect x="1897" y="272" width="4" height="4"/><rect x="1897" y="296" width="4" height="4"/><rect x="1897" y="320" width="4" height="4"/><rect x="1897" y="345" width="4" height="3"/><rect x="1897" y="369" width="4" height="3"/><rect x="1897" y="393" width="4" height="3"/><rect x="1897" y="417" width="4" height="3"/><rect x="1897" y="441" width="4" height="4"/><rect x="1897" y="465" width="4" height="4"/><rect x="1897" y="489" width="4" height="4"/><rect x="1897" y="513" width="4" height="4"/><rect x="1897" y="538" width="4" height="3"/><rect x="1897" y="562" width="4" height="3"/><rect x="1897" y="586" width="4" height="3"/><rect x="1897" y="610" width="4" height="3"/><rect x="1897" y="634" width="4" height="4"/><rect x="1897" y="658" width="4" height="4"/><rect x="1897" y="682" width="4" height="4"/><rect x="1897" y="706" width="4" height="4"/><rect x="1897" y="731" width="4" height="3"/><rect x="1897" y="755" width="4" height="3"/><rect x="1897" y="779" width="4" height="3"/><rect x="1897" y="803" width="4" height="3"/><rect x="1897" y="827" width="4" height="3"/><rect x="1897" y="851" width="4" height="4"/><rect x="1897" y="875" width="4" height="4"/><rect x="1897" y="899" width="4" height="4"/><rect x="1897" y="923" width="4" height="4"/><rect x="1897" y="948" width="4" height="3"/><rect x="1897" y="972" width="4" height="3"/><rect x="1897" y="996" width="4" height="3"/><rect x="1897" y="1020" width="4" height="3"/><rect x="1897" y="1044" width="4" height="4"/><rect x="1897" y="1068" width="4" height="4"/><rect x="1897" y="1092" width="4" height="4"/><rect x="1897" y="1116" width="4" height="4"/><rect x="1897" y="1141" width="4" height="3"/><rect x="1897" y="1165" width="4" height="3"/><rect x="1897" y="1189" width="4" height="3"/><rect x="1897" y="1213" width="4" height="3"/><rect x="1897" y="1237" width="4" height="4"/><rect x="1897" y="1261" width="4" height="4"/><rect x="1897" y="1285" width="4" height="4"/><rect x="1897" y="1309" width="4" height="4"/><rect x="1897" y="1334" width="4" height="3"/><rect x="1897" y="1358" width="4" height="3"/><rect x="1897" y="1382" width="4" height="3"/><rect x="1897" y="1406" width="4" height="3"/><rect x="1897" y="1430" width="4" height="3"/><rect x="1897" y="1454" width="4" height="4"/><rect x="1897" y="1478" width="4" height="4"/><rect x="1897" y="1502" width="4" height="4"/><rect x="1897" y="1526" width="4" height="4"/><rect x="1897" y="1551" width="4" height="3"/><rect x="1897" y="1575" width="4" height="3"/><rect x="1897" y="1599" width="4" height="3"/><rect x="1934" y="176" width="3" height="3"/><rect x="1934" y="200" width="3" height="3"/><rect x="1934" y="224" width="3" height="3"/><rect x="1934" y="248" width="3" height="4"/><rect x="1934" y="272" width="3" height="4"/><rect x="1934" y="296" width="3" height="4"/><rect x="1934" y="320" width="3" height="4"/><rect x="1934" y="345" width="3" height="3"/><rect x="1934" y="369" width="3" height="3"/><rect x="1934" y="393" width="3" height="3"/><rect x="1934" y="417" width="3" height="3"/><rect x="1934" y="441" width="3" height="4"/><rect x="1934" y="465" width="3" height="4"/><rect x="1934" y="489" width="3" height="4"/><rect x="1934" y="513" width="3" height="4"/><rect x="1934" y="538" width="3" height="3"/><rect x="1934" y="562" width="3" height="3"/><rect x="1934" y="586" width="3" height="3"/><rect x="1934" y="610" width="3" height="3"/><rect x="1934" y="634" width="3" height="4"/><rect x="1934" y="658" width="3" height="4"/><rect x="1934" y="682" width="3" height="4"/><rect x="1934" y="706" width="3" height="4"/><rect x="1934" y="731" width="3" height="3"/><rect x="1934" y="755" width="3" height="3"/><rect x="1934" y="779" width="3" height="3"/><rect x="1934" y="803" width="3" height="3"/><rect x="1934" y="827" width="3" height="3"/><rect x="1934" y="851" width="3" height="4"/><rect x="1934" y="875" width="3" height="4"/><rect x="1934" y="899" width="3" height="4"/><rect x="1934" y="923" width="3" height="4"/><rect x="1934" y="948" width="3" height="3"/><rect x="1934" y="972" width="3" height="3"/><rect x="1934" y="996" width="3" height="3"/><rect x="1934" y="1020" width="3" height="3"/><rect x="1934" y="1044" width="3" height="4"/><rect x="1934" y="1068" width="3" height="4"/><rect x="1934" y="1092" width="3" height="4"/><rect x="1934" y="1116" width="3" height="4"/><rect x="1934" y="1141" width="3" height="3"/><rect x="1934" y="1165" width="3" height="3"/><rect x="1934" y="1189" width="3" height="3"/><rect x="1934" y="1213" width="3" height="3"/><rect x="1934" y="1237" width="3" height="4"/><rect x="1934" y="1261" width="3" height="4"/><rect x="1934" y="1285" width="3" height="4"/><rect x="1934" y="1309" width="3" height="4"/><rect x="1934" y="1334" width="3" height="3"/><rect x="1934" y="1358" width="3" height="3"/><rect x="1934" y="1382" width="3" height="3"/><rect x="1934" y="1406" width="3" height="3"/><rect x="1934" y="1430" width="3" height="3"/><rect x="1934" y="1454" width="3" height="4"/><rect x="1934" y="1478" width="3" height="4"/><rect x="1934" y="1502" width="3" height="4"/><rect x="1934" y="1526" width="3" height="4"/><rect x="1934" y="1551" width="3" height="3"/><rect x="1934" y="1575" width="3" height="3"/><rect x="1934" y="1599" width="3" height="3"/>
<rect x="337" y="261" width="4" height="2"/><rect x="361" y="261" width="4" height="2"/><rect x="386" y="261" width="3" height="2"/><rect x="410" y="261" width="3" height="2"/><rect x="434" y="261" width="3" height="2"/><rect x="458" y="261" width="3" height="2"/><rect x="482" y="261" width="4" height="2"/><rect x="506" y="261" width="4" height="2"/><rect x="530" y="261" width="4" height="2"/><rect x="554" y="261" width="4" height="2"/><rect x="579" y="261" width="3" height="2"/><rect x="603" y="261" width="3" height="2"/><rect x="627" y="261" width="3" height="2"/><rect x="651" y="261" width="3" height="2"/><rect x="675" y="261" width="4" height="2"/><rect x="699" y="261" width="4" height="2"/><rect x="723" y="261" width="4" height="2"/><rect x="747" y="261" width="4" height="2"/><rect x="772" y="261" width="3" height="2"/><rect x="796" y="261" width="3" height="2"/><rect x="820" y="261" width="3" height="2"/><rect x="844" y="261" width="3" height="2"/><rect x="868" y="261" width="4" height="2"/><rect x="892" y="261" width="4" height="2"/><rect x="916" y="261" width="4" height="2"/><rect x="940" y="261" width="4" height="2"/><rect x="965" y="261" width="3" height="2"/><rect x="989" y="261" width="3" height="2"/><rect x="1013" y="261" width="3" height="2"/><rect x="1037" y="261" width="3" height="2"/><rect x="1061" y="261" width="4" height="2"/><rect x="1085" y="261" width="4" height="2"/><rect x="1109" y="261" width="4" height="2"/><rect x="1133" y="261" width="4" height="2"/><rect x="1158" y="261" width="3" height="2"/><rect x="1182" y="261" width="3" height="2"/><rect x="1206" y="261" width="3" height="2"/><rect x="1230" y="261" width="3" height="2"/><rect x="1254" y="261" width="4" height="2"/><rect x="1278" y="261" width="4" height="2"/><rect x="1302" y="261" width="4" height="2"/><rect x="1326" y="261" width="4" height="2"/><rect x="1351" y="261" width="3" height="2"/><rect x="1375" y="261" width="3" height="2"/><rect x="1399" y="261" width="3" height="2"/><rect x="1423" y="261" width="3" height="2"/><rect x="1447" y="261" width="4" height="2"/><rect x="1471" y="261" width="4" height="2"/><rect x="1495" y="261" width="4" height="2"/><rect x="1519" y="261" width="4" height="2"/><rect x="1544" y="261" width="3" height="2"/><rect x="1568" y="261" width="3" height="2"/><rect x="1592" y="261" width="3" height="2"/><rect x="1616" y="261" width="3" height="2"/><rect x="1640" y="261" width="4" height="2"/><rect x="1664" y="261" width="4" height="2"/><rect x="1688" y="261" width="4" height="2"/><rect x="1712" y="261" width="4" height="2"/><rect x="1737" y="261" width="3" height="2"/><rect x="1761" y="261" width="3" height="2"/><rect x="1785" y="261" width="3" height="2"/><rect x="1809" y="261" width="3" height="2"/><rect x="1833" y="261" width="4" height="2"/><rect x="1857" y="261" width="4" height="2"/><rect x="1881" y="261" width="4" height="2"/><rect x="1905" y="261" width="4" height="2"/><rect x="1930" y="261" width="3" height="2"/><rect x="1954" y="261" width="3" height="2"/><rect x="1978" y="261" width="3" height="2"/><rect x="2002" y="261" width="3" height="2"/><rect x="2026" y="261" width="4" height="2"/><rect x="2050" y="261" width="4" height="2"/><rect x="2074" y="261" width="4" height="2"/><rect x="2098" y="261" width="4" height="2"/><rect x="2123" y="261" width="3" height="2"/><rect x="2147" y="261" width="3" height="2"/><rect x="337" y="366" width="4" height="2"/><rect x="361" y="366" width="4" height="2"/><rect x="386" y="366" width="3" height="2"/><rect x="410" y="366" width="3" height="2"/><rect x="434" y="366" width="3" height="2"/><rect x="458" y="366" width="3" height="2"/><rect x="482" y="366" width="4" height="2"/><rect x="506" y="366" width="4" height="2"/><rect x="530" y="366" width="4" height="2"/><rect x="554" y="366" width="4" height="2"/><rect x="579" y="366" width="3" height="2"/><rect x="603" y="366" width="3" height="2"/><rect x="627" y="366" width="3" height="2"/><rect x="651" y="366" width="3" height="2"/><rect x="675" y="366" width="4" height="2"/><rect x="699" y="366" width="4" height="2"/><rect x="723" y="366" width="4" height="2"/><rect x="747" y="366" width="4" height="2"/><rect x="772" y="366" width="3" height="2"/><rect x="796" y="366" width="3" height="2"/><rect x="820" y="366" width="3" height="2"/><rect x="844" y="366" width="3" height="2"/><rect x="868" y="366" width="4" height="2"/><rect x="892" y="366" width="4" height="2"/><rect x="916" y="366" width="4" height="2"/><rect x="940" y="366" width="4" height="2"/><rect x="965" y="366" width="3" height="2"/><rect x="989" y="366" width="3" height="2"/><rect x="1013" y="366" width="3" height="2"/><rect x="1037" y="366" width="3" height="2"/><rect x="1061" y="366" width="4" height="2"/><rect x="1085" y="366" width="4" height="2"/><rect x="1109" y="366" width="4" height="2"/><rect x="1133" y="366" width="4" height="2"/><rect x="1158" y="366" width="3" height="2"/><rect x="1182" y="366" width="3" height="2"/><rect x="1206" y="366" width="3" height="2"/><rect x="1230" y="366" width="3" height="2"/><rect x="1254" y="366" width="4" height="2"/><rect x="1278" y="366" width="4" height="2"/><rect x="1302" y="366" width="4" height="2"/><rect x="1326" y="366" width="4" height="2"/><rect x="1351" y="366" width="3" height="2"/><rect x="1375" y="366" width="3" height="2"/><rect x="1399" y="366" width="3" height="2"/><rect x="1423" y="366" width="3" height="2"/><rect x="1447" y="366" width="4" height="2"/><rect x="1471" y="366" width="4" height="2"/><rect x="1495" y="366" width="4" height="2"/><rect x="1519" y="366" width="4" height="2"/><rect x="1544" y="366" width="3" height="2"/><rect x="1568" y="366" width="3" height="2"/><rect x="1592" y="366" width="3" height="2"/><rect x="1616" y="366" width="3" height="2"/><rect x="1640" y="366" width="4" height="2"/><rect x="1664" y="366" width="4" height="2"/><rect x="1688" y="366" width="4" height="2"/><rect x="1712" y="366" width="4" height="2"/><rect x="1737" y="366" width="3" height="2"/><rect x="1761" y="366" width="3" height="2"/><rect x="1785" y="366" width="3" height="2"/><rect x="1809" y="366" width="3" height="2"/><rect x="1833" y="366" width="4" height="2"/><rect x="1857" y="366" width="4" height="2"/><rect x="1881" y="366" width="4" height="2"/><rect x="1905" y="366" width="4" height="2"/><rect x="1930" y="366" width="3" height="2"/><rect x="1954" y="366" width="3" height="2"/><rect x="1978" y="366" width="3" height="2"/><rect x="2002" y="366" width="3" height="2"/><rect x="2026" y="366" width="4" height="2"/><rect x="2050" y="366" width="4" height="2"/><rect x="2074" y="366" width="4" height="2"/><rect x="2098" y="366" width="4" height="2"/><rect x="2123" y="366" width="3" height="2"/><rect x="2147" y="366" width="3" height="2"/><rect x="337" y="471" width="4" height="2"/><rect x="361" y="471" width="4" height="2"/><rect x="386" y="471" width="3" height="2"/><rect x="410" y="471" width="3" height="2"/><rect x="434" y="471" width="3" height="2"/><rect x="458" y="471" width="3" height="2"/><rect x="482" y="471" width="4" height="2"/><rect x="506" y="471" width="4" height="2"/><rect x="530" y="471" width="4" height="2"/><rect x="554" y="471" width="4" height="2"/><rect x="579" y="471" width="3" height="2"/><rect x="603" y="471" width="3" height="2"/><rect x="627" y="471" width="3" height="2"/><rect x="651" y="471" width="3" height="2"/><rect x="675" y="471" width="4" height="2"/><rect x="699" y="471" width="4" height="2"/><rect x="723" y="471" width="4" height="2"/><rect x="747" y="471" width="4" height="2"/><rect x="772" y="471" width="3" height="2"/><rect x="796" y="471" width="3" height="2"/><rect x="820" y="471" width="3" height="2"/><rect x="844" y="471" width="3" height="2"/><rect x="868" y="471" width="4" height="2"/><rect x="892" y="471" width="4" height="2"/><rect x="916" y="471" width="4" height="2"/><rect x="940" y="471" width="4" height="2"/><rect x="965" y="471" width="3" height="2"/><rect x="989" y="471" width="3" height="2"/><rect x="1013" y="471" width="3" height="2"/><rect x="1037" y="471" width="3" height="2"/><rect x="1061" y="471" width="4" height="2"/><rect x="1085" y="471" width="4" height="2"/><rect x="1109" y="471" width="4" height="2"/><rect x="1133" y="471" width="4" height="2"/><rect x="1158" y="471" width="3" height="2"/><rect x="1182" y="471" width="3" height="2"/><rect x="1206" y="471" width="3" height="2"/><rect x="1230" y="471" width="3" height="2"/><rect x="1254" y="471" width="4" height="2"/><rect x="1278" y="471" width="4" height="2"/><rect x="1302" y="471" width="4" height="2"/><rect x="1326" y="471" width="4" height="2"/><rect x="1351" y="471" width="3" height="2"/><rect x="1375" y="471" width="3" height="2"/><rect x="1399" y="471" width="3" height="2"/><rect x="1423" y="471" width="3" height="2"/><rect x="1447" y="471" width="4" height="2"/><rect x="1471" y="471" width="4" height="2"/><rect x="1495" y="471" width="4" height="2"/><rect x="1519" y="471" width="4" height="2"/><rect x="1544" y="471" width="3" height="2"/><rect x="1568" y="471" width="3" height="2"/><rect x="1592" y="471" width="3" height="2"/><rect x="1616" y="471" width="3" height="2"/><rect x="1640" y="471" width="4" height="2"/><rect x="1664" y="471" width="4" height="2"/><rect x="1688" y="471" width="4" height="2"/><rect x="1712" y="471" width="4" height="2"/><rect x="1737" y="471" width="3" height="2"/><rect x="1761" y="471" width="3" height="2"/><rect x="1785" y="471" width="3" height="2"/><rect x="1809" y="471" width="3" height="2"/><rect x="1833" y="471" width="4" height="2"/><rect x="1857" y="471" width="4" height="2"/><rect x="1881" y="471" width="4" height="2"/><rect x="1905" y="471" width="4" height="2"/><rect x="1930" y="471" width="3" height="2"/><rect x="1954" y="471" width="3" height="2"/><rect x="1978" y="471" width="3" height="2"/><rect x="2002" y="471" width="3" height="2"/><rect x="2026" y="471" width="4" height="2"/><rect x="2050" y="471" width="4" height="2"/><rect x="2074" y="471" width="4" height="2"/><rect x="2098" y="471" width="4" height="2"/><rect x="2123" y="471" width="3" height="2"/><rect x="2147" y="471" width="3" height="2"/><rect x="337" y="576" width="4" height="2"/><rect x="361" y="576" width="4" height="2"/><rect x="386" y="576" width="3" height="2"/><rect x="410" y="576" width="3" height="2"/><rect x="434" y="576" width="3" height="2"/><rect x="458" y="576" width="3" height="2"/><rect x="482" y="576" width="4" height="2"/><rect x="506" y="576" width="4" height="2"/><rect x="530" y="576" width="4" height="2"/><rect x="554" y="576" width="4" height="2"/><rect x="579" y="576" width="3" height="2"/><rect x="603" y="576" width="3" height="2"/><rect x="627" y="576" width="3" height="2"/><rect x="651" y="576" width="3" height="2"/><rect x="675" y="576" width="4" height="2"/><rect x="699" y="576" width="4" height="2"/><rect x="723" y="576" width="4" height="2"/><rect x="747" y="576" width="4" height="2"/><rect x="772" y="576" width="3" height="2"/><rect x="796" y="576" width="3" height="2"/><rect x="820" y="576" width="3" height="2"/><rect x="844" y="576" width="3" height="2"/><rect x="868" y="576" width="4" height="2"/><rect x="892" y="576" width="4" height="2"/><rect x="916" y="576" width="4" height="2"/><rect x="940" y="576" width="4" height="2"/><rect x="965" y="576" width="3" height="2"/><rect x="989" y="576" width="3" height="2"/><rect x="1013" y="576" width="3" height="2"/><rect x="1037" y="576" width="3" height="2"/><rect x="1061" y="576" width="4" height="2"/><rect x="1085" y="576" width="4" height="2"/><rect x="1109" y="576" width="4" height="2"/><rect x="1133" y="576" width="4" height="2"/><rect x="1158" y="576" width="3" height="2"/><rect x="1182" y="576" width="3" height="2"/><rect x="1206" y="576" width="3" height="2"/><rect x="1230" y="576" width="3" height="2"/><rect x="1254" y="576" width="4" height="2"/><rect x="1278" y="576" width="4" height="2"/><rect x="1302" y="576" width="4" height="2"/><rect x="1326" y="576" width="4" height="2"/><rect x="1351" y="576" width="3" height="2"/><rect x="1375" y="576" width="3" height="2"/><rect x="1399" y="576" width="3" height="2"/><rect x="1423" y="576" width="3" height="2"/><rect x="1447" y="576" width="4" height="2"/><rect x="1471" y="576" width="4" height="2"/><rect x="1495" y="576" width="4" height="2"/><rect x="1519" y="576" width="4" height="2"/><rect x="1544" y="576" width="3" height="2"/><rect x="1568" y="576" width="3" height="2"/><rect x="1592" y="576" width="3" height="2"/><rect x="1616" y="576" width="3" height="2"/><rect x="1640" y="576" width="4" height="2"/><rect x="1664" y="576" width="4" height="2"/><rect x="1688" y="576" width="4" height="2"/><rect x="1712" y="576" width="4" height="2"/><rect x="1737" y="576" width="3" height="2"/><rect x="1761" y="576" width="3" height="2"/><rect x="1785" y="576" width="3" height="2"/><rect x="1809" y="576" width="3" height="2"/><rect x="1833" y="576" width="4" height="2"/><rect x="1857" y="576" width="4" height="2"/><rect x="1881" y="576" width="4" height="2"/><rect x="1905" y="576" width="4" height="2"/><rect x="1930" y="576" width="3" height="2"/><rect x="1954" y="576" width="3" height="2"/><rect x="1978" y="576" width="3" height="2"/><rect x="2002" y="576" width="3" height="2"/><rect x="2026" y="576" width="4" height="2"/><rect x="2050" y="576" width="4" height="2"/><rect x="2074" y="576" width="4" height="2"/><rect x="2098" y="576" width="4" height="2"/><rect x="2123" y="576" width="3" height="2"/><rect x="2147" y="576" width="3" height="2"/><rect x="337" y="681" width="4" height="2"/><rect x="361" y="681" width="4" height="2"/><rect x="386" y="681" width="3" height="2"/><rect x="410" y="681" width="3" height="2"/><rect x="434" y="681" width="3" height="2"/><rect x="458" y="681" width="3" height="2"/><rect x="482" y="681" width="4" height="2"/><rect x="506" y="681" width="4" height="2"/><rect x="530" y="681" width="4" height="2"/><rect x="554" y="681" width="4" height="2"/><rect x="579" y="681" width="3" height="2"/><rect x="603" y="681" width="3" height="2"/><rect x="627" y="681" width="3" height="2"/><rect x="651" y="681" width="3" height="2"/><rect x="675" y="681" width="4" height="2"/><rect x="699" y="681" width="4" height="2"/><rect x="723" y="681" width="4" height="2"/><rect x="747" y="681" width="4" height="2"/><rect x="772" y="681" width="3" height="2"/><rect x="796" y="681" width="3" height="2"/><rect x="820" y="681" width="3" height="2"/><rect x="844" y="681" width="3" height="2"/><rect x="868" y="681" width="4" height="2"/><rect x="892" y="681" width="4" height="2"/><rect x="916" y="681" width="4" height="2"/><rect x="940" y="681" width="4" height="2"/><rect x="965" y="681" width="3" height="2"/><rect x="989" y="681" width="3" height="2"/><rect x="1013" y="681" width="3" height="2"/><rect x="1037" y="681" width="3" height="2"/><rect x="1061" y="681" width="4" height="2"/><rect x="1085" y="681" width="4" height="2"/><rect x="1109" y="681" width="4" height="2"/><rect x="1133" y="681" width="4" height="2"/><rect x="1158" y="681" width="3" height="2"/><rect x="1182" y="681" width="3" height="2"/><rect x="1206" y="681" width="3" height="2"/><rect x="1230" y="681" width="3" height="2"/><rect x="1254" y="681" width="4" height="2"/><rect x="1278" y="681" width="4" height="2"/><rect x="1302" y="681" width="4" height="2"/><rect x="1326" y="681" width="4" height="2"/><rect x="1351" y="681" width="3" height="2"/><rect x="1375" y="681" width="3" height="2"/><rect x="1399" y="681" width="3" height="2"/><rect x="1423" y="681" width="3" height="2"/><rect x="1447" y="681" width="4" height="2"/><rect x="1471" y="681" width="4" height="2"/><rect x="1495" y="681" width="4" height="2"/><rect x="1519" y="681" width="4" height="2"/><rect x="1544" y="681" width="3" height="2"/><rect x="1568" y="681" width="3" height="2"/><rect x="1592" y="681" width="3" height="2"/><rect x="1616" y="681" width="3" height="2"/><rect x="1640" y="681" width="4" height="2"/><rect x="1664" y="681" width="4" height="2"/><rect x="1688" y="681" width="4" height="2"/><rect x="1712" y="681" width="4" height="2"/><rect x="1737" y="681" width="3" height="2"/><rect x="1761" y="681" width="3" height="2"/><rect x="1785" y="681" width="3" height="2"/><rect x="1809" y="681" width="3" height="2"/><rect x="1833" y="681" width="4" height="2"/><rect x="1857" y="681" width="4" height="2"/><rect x="1881" y="681" width="4" height="2"/><rect x="1905" y="681" width="4" height="2"/><rect x="1930" y="681" width="3" height="2"/><rect x="1954" y="681" width="3" height="2"/><rect x="1978" y="681" width="3" height="2"/><rect x="2002" y="681" width="3" height="2"/><rect x="2026" y="681" width="4" height="2"/><rect x="2050" y="681" width="4" height="2"/><rect x="2074" y="681" width="4" height="2"/><rect x="2098" y="681" width="4" height="2"/><rect x="2123" y="681" width="3" height="2"/><rect x="2147" y="681" width="3" height="2"/><rect x="337" y="786" width="4" height="2"/><rect x="361" y="786" width="4" height="2"/><rect x="386" y="786" width="3" height="2"/><rect x="410" y="786" width="3" height="2"/><rect x="434" y="786" width="3" height="2"/><rect x="458" y="786" width="3" height="2"/><rect x="482" y="786" width="4" height="2"/><rect x="506" y="786" width="4" height="2"/><rect x="530" y="786" width="4" height="2"/><rect x="554" y="786" width="4" height="2"/><rect x="579" y="786" width="3" height="2"/><rect x="603" y="786" width="3" height="2"/><rect x="627" y="786" width="3" height="2"/><rect x="651" y="786" width="3" height="2"/><rect x="675" y="786" width="4" height="2"/><rect x="699" y="786" width="4" height="2"/><rect x="723" y="786" width="4" height="2"/><rect x="747" y="786" width="4" height="2"/><rect x="772" y="786" width="3" height="2"/><rect x="796" y="786" width="3" height="2"/><rect x="820" y="786" width="3" height="2"/><rect x="844" y="786" width="3" height="2"/><rect x="868" y="786" width="4" height="2"/><rect x="892" y="786" width="4" height="2"/><rect x="916" y="786" width="4" height="2"/><rect x="940" y="786" width="4" height="2"/><rect x="965" y="786" width="3" height="2"/><rect x="989" y="786" width="3" height="2"/><rect x="1013" y="786" width="3" height="2"/><rect x="1037" y="786" width="3" height="2"/><rect x="1061" y="786" width="4" height="2"/><rect x="1085" y="786" width="4" height="2"/><rect x="1109" y="786" width="4" height="2"/><rect x="1133" y="786" width="4" height="2"/><rect x="1158" y="786" width="3" height="2"/><rect x="1182" y="786" width="3" height="2"/><rect x="1206" y="786" width="3" height="2"/><rect x="1230" y="786" width="3" height="2"/><rect x="1254" y="786" width="4" height="2"/><rect x="1278" y="786" width="4" height="2"/><rect x="1302" y="786" width="4" height="2"/><rect x="1326" y="786" width="4" height="2"/><rect x="1351" y="786" width="3" height="2"/><rect x="1375" y="786" width="3" height="2"/><rect x="1399" y="786" width="3" height="2"/><rect x="1423" y="786" width="3" height="2"/><rect x="1447" y="786" width="4" height="2"/><rect x="1471" y="786" width="4" height="2"/><rect x="1495" y="786" width="4" height="2"/><rect x="1519" y="786" width="4" height="2"/><rect x="1544" y="786" width="3" height="2"/><rect x="1568" y="786" width="3" height="2"/><rect x="1592" y="786" width="3" height="2"/><rect x="1616" y="786" width="3" height="2"/><rect x="1640" y="786" width="4" height="2"/><rect x="1664" y="786" width="4" height="2"/><rect x="1688" y="786" width="4" height="2"/><rect x="1712" y="786" width="4" height="2"/><rect x="1737" y="786" width="3" height="2"/><rect x="1761" y="786" width="3" height="2"/><rect x="1785" y="786" width="3" height="2"/><rect x="1809" y="786" width="3" height="2"/><rect x="1833" y="786" width="4" height="2"/><rect x="1857" y="786" width="4" height="2"/><rect x="1881" y="786" width="4" height="2"/><rect x="1905" y="786" width="4" height="2"/><rect x="1930" y="786" width="3" height="2"/><rect x="1954" y="786" width="3" height="2"/><rect x="1978" y="786" width="3" height="2"/><rect x="2002" y="786" width="3" height="2"/><rect x="2026" y="786" width="4" height="2"/><rect x="2050" y="786" width="4" height="2"/><rect x="2074" y="786" width="4" height="2"/><rect x="2098" y="786" width="4" height="2"/><rect x="2123" y="786" width="3" height="2"/><rect x="2147" y="786" width="3" height="2"/><rect x="337" y="891" width="4" height="2"/><rect x="361" y="891" width="4" height="2"/><rect x="386" y="891" width="3" height="2"/><rect x="410" y="891" width="3" height="2"/><rect x="434" y="891" width="3" height="2"/><rect x="458" y="891" width="3" height="2"/><rect x="482" y="891" width="4" height="2"/><rect x="506" y="891" width="4" height="2"/><rect x="530" y="891" width="4" height="2"/><rect x="554" y="891" width="4" height="2"/><rect x="579" y="891" width="3" height="2"/><rect x="603" y="891" width="3" height="2"/><rect x="627" y="891" width="3" height="2"/><rect x="651" y="891" width="3" height="2"/><rect x="675" y="891" width="4" height="2"/><rect x="699" y="891" width="4" height="2"/><rect x="723" y="891" width="4" height="2"/><rect x="747" y="891" width="4" height="2"/><rect x="772" y="891" width="3" height="2"/><rect x="796" y="891" width="3" height="2"/><rect x="820" y="891" width="3" height="2"/><rect x="844" y="891" width="3" height="2"/><rect x="868" y="891" width="4" height="2"/><rect x="892" y="891" width="4" height="2"/><rect x="916" y="891" width="4" height="2"/><rect x="940" y="891" width="4" height="2"/><rect x="965" y="891" width="3" height="2"/><rect x="989" y="891" width="3" height="2"/><rect x="1013" y="891" width="3" height="2"/><rect x="1037" y="891" width="3" height="2"/><rect x="1061" y="891" width="4" height="2"/><rect x="1085" y="891" width="4" height="2"/><rect x="1109" y="891" width="4" height="2"/><rect x="1133" y="891" width="4" height="2"/><rect x="1158" y="891" width="3" height="2"/><rect x="1182" y="891" width="3" height="2"/><rect x="1206" y="891" width="3" height="2"/><rect x="1230" y="891" width="3" height="2"/><rect x="1254" y="891" width="4" height="2"/><rect x="1278" y="891" width="4" height="2"/><rect x="1302" y="891" width="4" height="2"/><rect x="1326" y="891" width="4" height="2"/><rect x="1351" y="891" width="3" height="2"/><rect x="1375" y="891" width="3" height="2"/><rect x="1399" y="891" width="3" height="2"/><rect x="1423" y="891" width="3" height="2"/><rect x="1447" y="891" width="4" height="2"/><rect x="1471" y="891" width="4" height="2"/><rect x="1495" y="891" width="4" height="2"/><rect x="1519" y="891" width="4" height="2"/><rect x="1544" y="891" width="3" height="2"/><rect x="1568" y="891" width="3" height="2"/><rect x="1592" y="891" width="3" height="2"/><rect x="1616" y="891" width="3" height="2"/><rect x="1640" y="891" width="4" height="2"/><rect x="1664" y="891" width="4" height="2"/><rect x="1688" y="891" width="4" height="2"/><rect x="1712" y="891" width="4" height="2"/><rect x="1737" y="891" width="3" height="2"/><rect x="1761" y="891" width="3" height="2"/><rect x="1785" y="891" width="3" height="2"/><rect x="1809" y="891" width="3" height="2"/><rect x="1833" y="891" width="4" height="2"/><rect x="1857" y="891" width="4" height="2"/><rect x="1881" y="891" width="4" height="2"/><rect x="1905" y="891" width="4" height="2"/><rect x="1930" y="891" width="3" height="2"/><rect x="1954" y="891" width="3" height="2"/><rect x="1978" y="891" width="3" height="2"/><rect x="2002" y="891" width="3" height="2"/><rect x="2026" y="891" width="4" height="2"/><rect x="2050" y="891" width="4" height="2"/><rect x="2074" y="891" width="4" height="2"/><rect x="2098" y="891" width="4" height="2"/><rect x="2123" y="891" width="3" height="2"/><rect x="2147" y="891" width="3" height="2"/><rect x="337" y="996" width="4" height="2"/><rect x="361" y="996" width="4" height="2"/><rect x="386" y="996" width="3" height="2"/><rect x="410" y="996" width="3" height="2"/><rect x="434" y="996" width="3" height="2"/><rect x="458" y="996" width="3" height="2"/><rect x="482" y="996" width="4" height="2"/><rect x="506" y="996" width="4" height="2"/><rect x="530" y="996" width="4" height="2"/><rect x="554" y="996" width="4" height="2"/><rect x="579" y="996" width="3" height="2"/><rect x="603" y="996" width="3" height="2"/><rect x="627" y="996" width="3" height="2"/><rect x="651" y="996" width="3" height="2"/><rect x="675" y="996" width="4" height="2"/><rect x="699" y="996" width="4" height="2"/><rect x="723" y="996" width="4" height="2"/><rect x="747" y="996" width="4" height="2"/><rect x="772" y="996" width="3" height="2"/><rect x="796" y="996" width="3" height="2"/><rect x="820" y="996" width="3" height="2"/><rect x="844" y="996" width="3" height="2"/><rect x="868" y="996" width="4" height="2"/><rect x="892" y="996" width="4" height="2"/><rect x="916" y="996" width="4" height="2"/><rect x="940" y="996" width="4" height="2"/><rect x="965" y="996" width="3" height="2"/><rect x="989" y="996" width="3" height="2"/><rect x="1013" y="996" width="3" height="2"/><rect x="1037" y="996" width="3" height="2"/><rect x="1061" y="996" width="4" height="2"/><rect x="1085" y="996" width="4" height="2"/><rect x="1109" y="996" width="4" height="2"/><rect x="1133" y="996" width="4" height="2"/><rect x="1158" y="996" width="3" height="2"/><rect x="1182" y="996" width="3" height="2"/><rect x="1206" y="996" width="3" height="2"/><rect x="1230" y="996" width="3" height="2"/><rect x="1254" y="996" width="4" height="2"/><rect x="1278" y="996" width="4" height="2"/><rect x="1302" y="996" width="4" height="2"/><rect x="1326" y="996" width="4" height="2"/><rect x="1351" y="996" width="3" height="2"/><rect x="1375" y="996" width="3" height="2"/><rect x="1399" y="996" width="3" height="2"/><rect x="1423" y="996" width="3" height="2"/><rect x="1447" y="996" width="4" height="2"/><rect x="1471" y="996" width="4" height="2"/><rect x="1495" y="996" width="4" height="2"/><rect x="1519" y="996" width="4" height="2"/><rect x="1544" y="996" width="3" height="2"/><rect x="1568" y="996" width="3" height="2"/><rect x="1592" y="996" width="3" height="2"/><rect x="1616" y="996" width="3" height="2"/><rect x="1640" y="996" width="4" height="2"/><rect x="1664" y="996" width="4" height="2"/><rect x="1688" y="996" width="4" height="2"/><rect x="1712" y="996" width="4" height="2"/><rect x="1737" y="996" width="3" height="2"/><rect x="1761" y="996" width="3" height="2"/><rect x="1785" y="996" width="3" height="2"/><rect x="1809" y="996" width="3" height="2"/><rect x="1833" y="996" width="4" height="2"/><rect x="1857" y="996" width="4" height="2"/><rect x="1881" y="996" width="4" height="2"/><rect x="1905" y="996" width="4" height="2"/><rect x="1930" y="996" width="3" height="2"/><rect x="1954" y="996" width="3" height="2"/><rect x="1978" y="996" width="3" height="2"/><rect x="2002" y="996" width="3" height="2"/><rect x="2026" y="996" width="4" height="2"/><rect x="2050" y="996" width="4" height="2"/><rect x="2074" y="996" width="4" height="2"/><rect x="2098" y="996" width="4" height="2"/><rect x="2123" y="996" width="3" height="2"/><rect x="2147" y="996" width="3" height="2"/><rect x="337" y="1100" width="4" height="2"/><rect x="361" y="1100" width="4" height="2"/><rect x="386" y="1100" width="3" height="2"/><rect x="410" y="1100" width="3" height="2"/><rect x="434" y="1100" width="3" height="2"/><rect x="458" y="1100" width="3" height="2"/><rect x="482" y="1100" width="4" height="2"/><rect x="506" y="1100" width="4" height="2"/><rect x="530" y="1100" width="4" height="2"/><rect x="554" y="1100" width="4" height="2"/><rect x="579" y="1100" width="3" height="2"/><rect x="603" y="1100" width="3" height="2"/><rect x="627" y="1100" width="3" height="2"/><rect x="651" y="1100" width="3" height="2"/><rect x="675" y="1100" width="4" height="2"/><rect x="699" y="1100" width="4" height="2"/><rect x="723" y="1100" width="4" height="2"/><rect x="747" y="1100" width="4" height="2"/><rect x="772" y="1100" width="3" height="2"/><rect x="796" y="1100" width="3" height="2"/><rect x="820" y="1100" width="3" height="2"/><rect x="844" y="1100" width="3" height="2"/><rect x="868" y="1100" width="4" height="2"/><rect x="892" y="1100" width="4" height="2"/><rect x="916" y="1100" width="4" height="2"/><rect x="940" y="1100" width="4" height="2"/><rect x="965" y="1100" width="3" height="2"/><rect x="989" y="1100" width="3" height="2"/><rect x="1013" y="1100" width="3" height="2"/><rect x="1037" y="1100" width="3" height="2"/><rect x="1061" y="1100" width="4" height="2"/><rect x="1085" y="1100" width="4" height="2"/><rect x="1109" y="1100" width="4" height="2"/><rect x="1133" y="1100" width="4" height="2"/><rect x="1158" y="1100" width="3" height="2"/><rect x="1182" y="1100" width="3" height="2"/><rect x="1206" y="1100" width="3" height="2"/><rect x="1230" y="1100" width="3" height="2"/><rect x="1254" y="1100" width="4" height="2"/><rect x="1278" y="1100" width="4" height="2"/><rect x="1302" y="1100" width="4" height="2"/><rect x="1326" y="1100" width="4" height="2"/><rect x="1351" y="1100" width="3" height="2"/><rect x="1375" y="1100" width="3" height="2"/><rect x="1399" y="1100" width="3" height="2"/><rect x="1423" y="1100" width="3" height="2"/><rect x="1447" y="1100" width="4" height="2"/><rect x="1471" y="1100" width="4" height="2"/><rect x="1495" y="1100" width="4" height="2"/><rect x="1519" y="1100" width="4" height="2"/><rect x="1544" y="1100" width="3" height="2"/><rect x="1568" y="1100" width="3" height="2"/><rect x="1592" y="1100" width="3" height="2"/><rect x="1616" y="1100" width="3" height="2"/><rect x="1640" y="1100" width="4" height="2"/><rect x="1664" y="1100" width="4" height="2"/><rect x="1688" y="1100" width="4" height="2"/><rect x="1712" y="1100" width="4" height="2"/><rect x="1737" y="1100" width="3" height="2"/><rect x="1761" y="1100" width="3" height="2"/><rect x="1785" y="1100" width="3" height="2"/><rect x="1809" y="1100" width="3" height="2"/><rect x="1833" y="1100" width="4" height="2"/><rect x="1857" y="1100" width="4" height="2"/><rect x="1881" y="1100" width="4" height="2"/><rect x="1905" y="1100" width="4" height="2"/><rect x="1930" y="1100" width="3" height="2"/><rect x="1954" y="1100" width="3" height="2"/><rect x="1978" y="1100" width="3" height="2"/><rect x="2002" y="1100" width="3" height="2"/><rect x="2026" y="1100" width="4" height="2"/><rect x="2050" y="1100" width="4" height="2"/><rect x="2074" y="1100" width="4" height="2"/><rect x="2098" y="1100" width="4" height="2"/><rect x="2123" y="1100" width="3" height="2"/><rect x="2147" y="1100" width="3" height="2"/><rect x="337" y="1205" width="4" height="2"/><rect x="361" y="1205" width="4" height="2"/><rect x="386" y="1205" width="3" height="2"/><rect x="410" y="1205" width="3" height="2"/><rect x="434" y="1205" width="3" height="2"/><rect x="458" y="1205" width="3" height="2"/><rect x="482" y="1205" width="4" height="2"/><rect x="506" y="1205" width="4" height="2"/><rect x="530" y="1205" width="4" height="2"/><rect x="554" y="1205" width="4" height="2"/><rect x="579" y="1205" width="3" height="2"/><rect x="603" y="1205" width="3" height="2"/><rect x="627" y="1205" width="3" height="2"/><rect x="651" y="1205" width="3" height="2"/><rect x="675" y="1205" width="4" height="2"/><rect x="699" y="1205" width="4" height="2"/><rect x="723" y="1205" width="4" height="2"/><rect x="747" y="1205" width="4" height="2"/><rect x="772" y="1205" width="3" height="2"/><rect x="796" y="1205" width="3" height="2"/><rect x="820" y="1205" width="3" height="2"/><rect x="844" y="1205" width="3" height="2"/><rect x="868" y="1205" width="4" height="2"/><rect x="892" y="1205" width="4" height="2"/><rect x="916" y="1205" width="4" height="2"/><rect x="940" y="1205" width="4" height="2"/><rect x="965" y="1205" width="3" height="2"/><rect x="989" y="1205" width="3" height="2"/><rect x="1013" y="1205" width="3" height="2"/><rect x="1037" y="1205" width="3" height="2"/><rect x="1061" y="1205" width="4" height="2"/><rect x="1085" y="1205" width="4" height="2"/><rect x="1109" y="1205" width="4" height="2"/><rect x="1133" y="1205" width="4" height="2"/><rect x="1158" y="1205" width="3" height="2"/><rect x="1182" y="1205" width="3" height="2"/><rect x="1206" y="1205" width="3" height="2"/><rect x="1230" y="1205" width="3" height="2"/><rect x="1254" y="1205" width="4" height="2"/><rect x="1278" y="1205" width="4" height="2"/><rect x="1302" y="1205" width="4" height="2"/><rect x="1326" y="1205" width="4" height="2"/><rect x="1351" y="1205" width="3" height="2"/><rect x="1375" y="1205" width="3" height="2"/><rect x="1399" y="1205" width="3" height="2"/><rect x="1423" y="1205" width="3" height="2"/><rect x="1447" y="1205" width="4" height="2"/><rect x="1471" y="1205" width="4" height="2"/><rect x="1495" y="1205" width="4" height="2"/><rect x="1519" y="1205" width="4" height="2"/><rect x="1544" y="1205" width="3" height="2"/><rect x="1568" y="1205" width="3" height="2"/><rect x="1592" y="1205" width="3" height="2"/><rect x="1616" y="1205" width="3" height="2"/><rect x="1640" y="1205" width="4" height="2"/><rect x="1664" y="1205" width="4" height="2"/><rect x="1688" y="1205" width="4" height="2"/><rect x="1712" y="1205" width="4" height="2"/><rect x="1737" y="1205" width="3" height="2"/><rect x="1761" y="1205" width="3" height="2"/><rect x="1785" y="1205" width="3" height="2"/><rect x="1809" y="1205" width="3" height="2"/><rect x="1833" y="1205" width="4" height="2"/><rect x="1857" y="1205" width="4" height="2"/><rect x="1881" y="1205" width="4" height="2"/><rect x="1905" y="1205" width="4" height="2"/><rect x="1930" y="1205" width="3" height="2"/><rect x="1954" y="1205" width="3" height="2"/><rect x="1978" y="1205" width="3" height="2"/><rect x="2002" y="1205" width="3" height="2"/><rect x="2026" y="1205" width="4" height="2"/><rect x="2050" y="1205" width="4" height="2"/><rect x="2074" y="1205" width="4" height="2"/><rect x="2098" y="1205" width="4" height="2"/><rect x="2123" y="1205" width="3" height="2"/><rect x="2147" y="1205" width="3" height="2"/><rect x="337" y="1310" width="4" height="2"/><rect x="361" y="1310" width="4" height="2"/><rect x="386" y="1310" width="3" height="2"/><rect x="410" y="1310" width="3" height="2"/><rect x="434" y="1310" width="3" height="2"/><rect x="458" y="1310" width="3" height="2"/><rect x="482" y="1310" width="4" height="2"/><rect x="506" y="1310" width="4" height="2"/><rect x="530" y="1310" width="4" height="2"/><rect x="554" y="1310" width="4" height="2"/><rect x="579" y="1310" width="3" height="2"/><rect x="603" y="1310" width="3" height="2"/><rect x="627" y="1310" width="3" height="2"/><rect x="651" y="1310" width="3" height="2"/><rect x="675" y="1310" width="4" height="2"/><rect x="699" y="1310" width="4" height="2"/><rect x="723" y="1310" width="4" height="2"/><rect x="747" y="1310" width="4" height="2"/><rect x="772" y="1310" width="3" height="2"/><rect x="796" y="1310" width="3" height="2"/><rect x="820" y="1310" width="3" height="2"/><rect x="844" y="1310" width="3" height="2"/><rect x="868" y="1310" width="4" height="2"/><rect x="892" y="1310" width="4" height="2"/><rect x="916" y="1310" width="4" height="2"/><rect x="940" y="1310" width="4" height="2"/><rect x="965" y="1310" width="3" height="2"/><rect x="989" y="1310" width="3" height="2"/><rect x="1013" y="1310" width="3" height="2"/><rect x="1037" y="1310" width="3" height="2"/><rect x="1061" y="1310" width="4" height="2"/><rect x="1085" y="1310" width="4" height="2"/><rect x="1109" y="1310" width="4" height="2"/><rect x="1133" y="1310" width="4" height="2"/><rect x="1158" y="1310" width="3" height="2"/><rect x="1182" y="1310" width="3" height="2"/><rect x="1206" y="1310" width="3" height="2"/><rect x="1230" y="1310" width="3" height="2"/><rect x="1254" y="1310" width="4" height="2"/><rect x="1278" y="1310" width="4" height="2"/><rect x="1302" y="1310" width="4" height="2"/><rect x="1326" y="1310" width="4" height="2"/><rect x="1351" y="1310" width="3" height="2"/><rect x="1375" y="1310" width="3" height="2"/><rect x="1399" y="1310" width="3" height="2"/><rect x="1423" y="1310" width="3" height="2"/><rect x="1447" y="1310" width="4" height="2"/><rect x="1471" y="1310" width="4" height="2"/><rect x="1495" y="1310" width="4" height="2"/><rect x="1519" y="1310" width="4" height="2"/><rect x="1544" y="1310" width="3" height="2"/><rect x="1568" y="1310" width="3" height="2"/><rect x="1592" y="1310" width="3" height="2"/><rect x="1616" y="1310" width="3" height="2"/><rect x="1640" y="1310" width="4" height="2"/><rect x="1664" y="1310" width="4" height="2"/><rect x="1688" y="1310" width="4" height="2"/><rect x="1712" y="1310" width="4" height="2"/><rect x="1737" y="1310" width="3" height="2"/><rect x="1761" y="1310" width="3" height="2"/><rect x="1785" y="1310" width="3" height="2"/><rect x="1809" y="1310" width="3" height="2"/><rect x="1833" y="1310" width="4" height="2"/><rect x="1857" y="1310" width="4" height="2"/><rect x="1881" y="1310" width="4" height="2"/><rect x="1905" y="1310" width="4" height="2"/><rect x="1930" y="1310" width="3" height="2"/><rect x="1954" y="1310" width="3" height="2"/><rect x="1978" y="1310" width="3" height="2"/><rect x="2002" y="1310" width="3" height="2"/><rect x="2026" y="1310" width="4" height="2"/><rect x="2050" y="1310" width="4" height="2"/><rect x="2074" y="1310" width="4" height="2"/><rect x="2098" y="1310" width="4" height="2"/><rect x="2123" y="1310" width="3" height="2"/><rect x="2147" y="1310" width="3" height="2"/><rect x="337" y="1415" width="4" height="2"/><rect x="361" y="1415" width="4" height="2"/><rect x="386" y="1415" width="3" height="2"/><rect x="410" y="1415" width="3" height="2"/><rect x="434" y="1415" width="3" height="2"/><rect x="458" y="1415" width="3" height="2"/><rect x="482" y="1415" width="4" height="2"/><rect x="506" y="1415" width="4" height="2"/><rect x="530" y="1415" width="4" height="2"/><rect x="554" y="1415" width="4" height="2"/><rect x="579" y="1415" width="3" height="2"/><rect x="603" y="1415" width="3" height="2"/><rect x="627" y="1415" width="3" height="2"/><rect x="651" y="1415" width="3" height="2"/><rect x="675" y="1415" width="4" height="2"/><rect x="699" y="1415" width="4" height="2"/><rect x="723" y="1415" width="4" height="2"/><rect x="747" y="1415" width="4" height="2"/><rect x="772" y="1415" width="3" height="2"/><rect x="796" y="1415" width="3" height="2"/><rect x="820" y="1415" width="3" height="2"/><rect x="844" y="1415" width="3" height="2"/><rect x="868" y="1415" width="4" height="2"/><rect x="892" y="1415" width="4" height="2"/><rect x="916" y="1415" width="4" height="2"/><rect x="940" y="1415" width="4" height="2"/><rect x="965" y="1415" width="3" height="2"/><rect x="989" y="1415" width="3" height="2"/><rect x="1013" y="1415" width="3" height="2"/><rect x="1037" y="1415" width="3" height="2"/><rect x="1061" y="1415" width="4" height="2"/><rect x="1085" y="1415" width="4" height="2"/><rect x="1109" y="1415" width="4" height="2"/><rect x="1133" y="1415" width="4" height="2"/><rect x="1158" y="1415" width="3" height="2"/><rect x="1182" y="1415" width="3" height="2"/><rect x="1206" y="1415" width="3" height="2"/><rect x="1230" y="1415" width="3" height="2"/><rect x="1254" y="1415" width="4" height="2"/><rect x="1278" y="1415" width="4" height="2"/><rect x="1302" y="1415" width="4" height="2"/><rect x="1326" y="1415" width="4" height="2"/><rect x="1351" y="1415" width="3" height="2"/><rect x="1375" y="1415" width="3" height="2"/><rect x="1399" y="1415" width="3" height="2"/><rect x="1423" y="1415" width="3" height="2"/><rect x="1447" y="1415" width="4" height="2"/><rect x="1471" y="1415" width="4" height="2"/><rect x="1495" y="1415" width="4" height="2"/><rect x="1519" y="1415" width="4" height="2"/><rect x="1544" y="1415" width="3" height="2"/><rect x="1568" y="1415" width="3" height="2"/><rect x="1592" y="1415" width="3" height="2"/><rect x="1616" y="1415" width="3" height="2"/><rect x="1640" y="1415" width="4" height="2"/><rect x="1664" y="1415" width="4" height="2"/><rect x="1688" y="1415" width="4" height="2"/><rect x="1712" y="1415" width="4" height="2"/><rect x="1737" y="1415" width="3" height="2"/><rect x="1761" y="1415" width="3" height="2"/><rect x="1785" y="1415" width="3" height="2"/><rect x="1809" y="1415" width="3" height="2"/><rect x="1833" y="1415" width="4" height="2"/><rect x="1857" y="1415" width="4" height="2"/><rect x="1881" y="1415" width="4" height="2"/><rect x="1905" y="1415" width="4" height="2"/><rect x="1930" y="1415" width="3" height="2"/><rect x="1954" y="1415" width="3" height="2"/><rect x="1978" y="1415" width="3" height="2"/><rect x="2002" y="1415" width="3" height="2"/><rect x="2026" y="1415" width="4" height="2"/><rect x="2050" y="1415" width="4" height="2"/><rect x="2074" y="1415" width="4" height="2"/><rect x="2098" y="1415" width="4" height="2"/><rect x="2123" y="1415" width="3" height="2"/><rect x="2147" y="1415" width="3" height="2"/><rect x="337" y="1520" width="4" height="2"/><rect x="361" y="1520" width="4" height="2"/><rect x="386" y="1520" width="3" height="2"/><rect x="410" y="1520" width="3" height="2"/><rect x="434" y="1520" width="3" height="2"/><rect x="458" y="1520" width="3" height="2"/><rect x="482" y="1520" width="4" height="2"/><rect x="506" y="1520" width="4" height="2"/><rect x="530" y="1520" width="4" height="2"/><rect x="554" y="1520" width="4" height="2"/><rect x="579" y="1520" width="3" height="2"/><rect x="603" y="1520" width="3" height="2"/><rect x="627" y="1520" width="3" height="2"/><rect x="651" y="1520" width="3" height="2"/><rect x="675" y="1520" width="4" height="2"/><rect x="699" y="1520" width="4" height="2"/><rect x="723" y="1520" width="4" height="2"/><rect x="747" y="1520" width="4" height="2"/><rect x="772" y="1520" width="3" height="2"/><rect x="796" y="1520" width="3" height="2"/><rect x="820" y="1520" width="3" height="2"/><rect x="844" y="1520" width="3" height="2"/><rect x="868" y="1520" width="4" height="2"/><rect x="892" y="1520" width="4" height="2"/><rect x="916" y="1520" width="4" height="2"/><rect x="940" y="1520" width="4" height="2"/><rect x="965" y="1520" width="3" height="2"/><rect x="989" y="1520" width="3" height="2"/><rect x="1013" y="1520" width="3" height="2"/><rect x="1037" y="1520" width="3" height="2"/><rect x="1061" y="1520" width="4" height="2"/><rect x="1085" y="1520" width="4" height="2"/><rect x="1109" y="1520" width="4" height="2"/><rect x="1133" y="1520" width="4" height="2"/><rect x="1158" y="1520" width="3" height="2"/><rect x="1182" y="1520" width="3" height="2"/><rect x="1206" y="1520" width="3" height="2"/><rect x="1230" y="1520" width="3" height="2"/><rect x="1254" y="1520" width="4" height="2"/><rect x="1278" y="1520" width="4" height="2"/><rect x="1302" y="1520" width="4" height="2"/><rect x="1326" y="1520" width="4" height="2"/><rect x="1351" y="1520" width="3" height="2"/><rect x="1375" y="1520" width="3" height="2"/><rect x="1399" y="1520" width="3" height="2"/><rect x="1423" y="1520" width="3" height="2"/><rect x="1447" y="1520" width="4" height="2"/><rect x="1471" y="1520" width="4" height="2"/><rect x="1495" y="1520" width="4" height="2"/><rect x="1519" y="1520" width="4" height="2"/><rect x="1544" y="1520" width="3" height="2"/><rect x="1568" y="1520" width="3" height="2"/><rect x="1592" y="1520" width="3" height="2"/><rect x="1616" y="1520" width="3" height="2"/><rect x="1640" y="1520" width="4" height="2"/><rect x="1664" y="1520" width="4" height="2"/><rect x="1688" y="1520" width="4" height="2"/><rect x="1712" y="1520" width="4" height="2"/><rect x="1737" y="1520" width="3" height="2"/><rect x="1761" y="1520" width="3" height="2"/><rect x="1785" y="1520" width="3" height="2"/><rect x="1809" y="1520" width="3" height="2"/><rect x="1833" y="1520" width="4" height="2"/><rect x="1857" y="1520" width="4" height="2"/><rect x="1881" y="1520" width="4" height="2"/><rect x="1905" y="1520" width="4" height="2"/><rect x="1930" y="1520" width="3" height="2"/><rect x="1954" y="1520" width="3" height="2"/><rect x="1978" y="1520" width="3" height="2"/><rect x="2002" y="1520" width="3" height="2"/><rect x="2026" y="1520" width="4" height="2"/><rect x="2050" y="1520" width="4" height="2"/><rect x="2074" y="1520" width="4" height="2"/><rect x="2098" y="1520" width="4" height="2"/><rect x="2123" y="1520" width="3" height="2"/><rect x="2147" y="1520" width="3" height="2"/>
</g>
<g id="axes" fill="#000" shape-rendering="crispEdges">
<rect x="312" y="156" width="1864" height="4"/>
<rect x="312" y="1624" width="1864" height="4"/>
<rect x="312" y="156" width="4" height="1472"/>
<rect x="2173" y="156" width="3" height="1472"/>
<rect x="348" y="158" width="4" height="21"/>
<rect x="348" y="1607" width="4" height="19"/>
<rect x="587" y="158" width="3" height="9"/>
<rect x="587" y="1616" width="3" height="10"/>
<rect x="726" y="158" width="4" height="9"/>
<rect x="726" y="1616" width="4" height="10"/>
<rect x="826" y="158" width="3" height="9"/>
<rect x="826" y="1616" width="3" height="10"/>
<rect x="902" y="158" width="4" height="9"/>
<rect x="902" y="1616" width="4" height="10"/>
<rect x="965" y="158" width="4" height="9"/>
<rect x="965" y="1616" width="4" height="10"/>
<rect x="1018" y="158" width="4" height="9"/>
<rect x="1018" y="1616" width="4" height="10"/>
<rect x="1064" y="158" width="4" height="9"/>
<rect x="1064" y="1616" width="4" height="10"/>
<rect x="1105" y="158" width="3" height="9"/>
<rect x="1105" y="1616" width="3" height="10"/>
<rect x="1141" y="158" width="3" height="21"/>
<rect x="1141" y="1607" width="3" height="19"/>
<rect x="1380" y="158" width="3" height="9"/>
<rect x="1380" y="1616" width="3" height="10"/>
<rect x="1519" y="158" width="4" height="9"/>
<rect x="1519" y="1616" width="4" height="10"/>
<rect x="1618" y="158" width="4" height="9"/>
<rect x="1618" y="1616" width="4" height="10"/>
<rect x="1695" y="158" width="4" height="9"/>
<rect x="1695" y="1616" width="4" height="10"/>
<rect x="1758" y="158" width="3" height="9"/>
<rect x="1758" y="1616" width="3" height="10"/>
<rect x="1811" y="158" width="3" height="9"/>
<rect x="1811" y="1616" width="3" height="10"/>
<rect x="1857" y="158" width="3" height="9"/>
<rect x="1857" y="1616" width="3" height="10"/>
<rect x="1897" y="158" width="4" height="9"/>
<rect x="1897" y="1616" width="4" height="10"/>
<rect x="1934" y="158" width="3" height="21"/>
<rect x="1934" y="1607" width="3" height="19"/>
<rect x="314" y="260" width="18" height="4"/>
<rect x="2155" y="260" width="19" height="4"/>
<rect x="314" y="365" width="18" height="4"/>
<rect x="2155" y="365" width="19" height="4"/>
<rect x="314" y="470" width="18" height="4"/>
<rect x="2155" y="470" width="19" height="4"/>
<rect x="314" y="575" width="18" height="4"/>
<rect x="2155" y="575" width="19" height="4"/>
<rect x="314" y="680" width="18" height="4"/>
<rect x="2155" y="680" width="19" height="4"/>
<rect x="314" y="785" width="18" height="4"/>
<rect x="2155" y="785" width="19" height="4"/>
<rect x="314" y="890" width="18" height="4"/>
<rect x="2155" y="890" width="19" height="4"/>
<rect x="314" y="995" width="18" height="4"/>
<rect x="2155" y="995" width="19" height="4"/>
<rect x="314" y="1099" width="18" height="4"/>
<rect x="2155" y="1099" width="19" height="4"/>
<rect x="314" y="1204" width="18" height="4"/>
<rect x="2155" y="1204" width="19" height="4"/>
<rect x="314" y="1309" width="18" height="4"/>
<rect x="2155" y="1309" width="19" height="4"/>
<rect x="314" y="1414" width="18" height="4"/>
<rect x="2155" y="1414" width="19" height="4"/>
<rect x="314" y="1519" width="18" height="4"/>
<rect x="2155" y="1519" width="19" height="4"/>
</g>
<g clip-path="url(#ax)" fill="none" stroke-width="12" stroke-linejoin="round" stroke-linecap="butt">
<path d="M350.0,880.7 L728.2,891.7 L904.1,863.5 L1019.9,781.0 L1106.4,655.8 L1175.5,499.0 L1233.0,371.8 L1282.3,370.8 L1325.4,359.4 L1363.7,448.6 L1398.1,447.0 L1429.4,463.7 L1458.1,497.0 L1484.6,542.3 L1509.2,581.3 L1532.2,592.4 L1553.7,610.6 L1574.0,639.5 L1593.1,691.9 L1611.2,739.7 L1628.5,748.0 L1644.9,727.6 L1660.5,708.3 L1675.5,699.5 L1689.8,726.0 L1703.6,772.4 L1716.8,720.0 L1729.6,774.0 L1741.9,826.4 L1753.8,802.4 L1765.2,813.2 L1776.3,835.5 L1787.1,796.5 L1797.5,794.2 L1807.7,821.5 L1817.5,835.8 L1827.1,825.2 L1836.4,835.2 L1845.4,849.8 L1854.2,831.2 L1862.9,858.7 L1871.3,895.9 L1879.5,908.7 L1887.5,898.1 L1895.3,903.5 L1902.9,949.1 L1910.4,952.4 L1917.7,917.0 L1924.9,927.1 L1931.9,928.3 L1938.8,924.8 L1945.6,923.3 L1952.2,930.0 L1958.7,908.1 L1965.1,881.5 L1971.3,878.3 L1977.5,910.5 L1983.5,910.6 L1989.5,902.3 L1995.3,935.6 L2001.0,959.3 L2006.7,957.4 L2012.2,947.0 L2017.7,978.0 L2023.1,1008.0 L2028.4,983.4 L2033.6,983.4 L2038.7,1000.8 L2043.8,1016.0 L2048.8,1027.6 L2053.7,1001.9 L2058.5,996.2 L2063.3,1016.5 L2068.0,1030.1 L2072.7,1043.5 L2077.3,1035.8 L2081.8,1028.5 L2086.3,1028.3 L2090.7,1054.4 L2095.0,1081.0 L2099.4,1086.6 L2103.6,1090.4 L2107.8,1070.0 L2111.9,1029.1 L2116.0,1047.1 L2120.1,1060.8 L2124.1,1064.0 L2128.1,1080.4 L2132.0,1103.8 L2135.8,1100.0 L2139.7,1095.0 L2143.4,1090.0 L2147.2,1085.0 L2150.9,1085.6 L2154.6,1087.0 L2158.2,1103.4 L2161.8,1086.6 L2165.3,1078.3 L2168.8,1089.7 L2172.3,1103.6 L2175.7,1118.0" stroke="#000"/>
<path d="M350.0,1451.4 L728.2,1023.5 L904.1,861.0 L1019.9,632.4 L1106.4,418.6 L1175.5,388.5 L1233.0,460.3 L1282.3,587.3 L1325.4,672.5 L1363.7,695.0 L1398.1,717.6 L1429.4,762.0 L1458.1,805.9 L1484.6,757.0 L1509.2,741.4 L1532.2,840.0 L1553.7,862.6 L1574.0,805.0 L1593.1,808.1 L1611.2,803.7 L1628.5,812.6 L1644.9,838.2 L1660.5,865.0 L1675.5,905.5 L1689.8,853.7 L1703.6,845.3 L1716.8,841.5 L1729.6,827.7 L1741.9,852.9 L1753.8,910.3 L1765.2,896.4 L1776.3,882.9 L1787.1,930.1 L1797.5,949.7 L1807.7,926.3 L1817.5,924.5 L1827.1,955.9 L1836.4,959.0 L1845.4,975.5 L1854.2,944.2 L1862.9,965.0 L1871.3,1011.0 L1879.5,1014.5 L1887.5,1036.5 L1895.3,1026.8 L1902.9,987.5 L1910.4,986.3 L1917.7,1010.0 L1924.9,1032.4 L1931.9,1029.0 L1938.8,984.5 L1945.6,980.8 L1952.2,971.4 L1958.7,973.9 L1965.1,975.5 L1971.3,977.5 L1977.5,968.5 L1983.5,952.9 L1989.5,943.1 L1995.3,961.7 L2001.0,952.6 L2006.7,951.8 L2012.2,923.3 L2017.7,972.0 L2023.1,1020.0 L2028.4,1058.6 L2033.6,1035.9 L2038.7,1035.9 L2043.8,1051.9 L2048.8,1068.1 L2053.7,1081.5 L2058.5,1089.7 L2063.3,1082.2 L2068.0,1076.3 L2072.7,1084.0 L2077.3,1072.1 L2081.8,1108.6 L2086.3,1101.1 L2090.7,1100.5 L2095.0,1101.1 L2099.4,1148.7 L2103.6,1154.5 L2107.8,1122.3 L2111.9,1128.5 L2116.0,1140.6 L2120.1,1148.5 L2124.1,1122.3 L2128.1,1137.4 L2132.0,1136.6 L2135.8,1132.6 L2139.7,1122.9 L2143.4,1031.1 L2147.2,1152.7 L2150.9,1162.3 L2154.6,1157.9 L2158.2,1138.3 L2161.8,1129.1 L2165.3,1126.2 L2168.8,1129.1 L2172.3,1150.7 L2175.7,1150.7" stroke="#f00"/>
<path d="M350.0,1158.0 L728.2,1071.9 L904.1,1103.2 L1019.9,1111.4 L1106.4,1098.8 L1175.5,1139.1 L1233.0,1119.8 L1282.3,1121.8 L1325.4,1048.0 L1363.7,1000.2 L1398.1,996.2 L1429.4,968.8 L1458.1,887.0 L1484.6,821.5 L1509.2,765.5 L1532.2,724.1 L1553.7,694.4 L1574.0,692.6 L1593.1,685.5 L1611.2,702.5 L1628.5,661.7 L1644.9,712.5 L1660.5,762.4 L1675.5,732.9 L1689.8,688.1 L1703.6,690.4 L1716.8,688.2 L1729.6,699.8 L1741.9,708.4 L1753.8,706.5 L1765.2,714.4 L1776.3,750.1 L1787.1,755.0 L1797.5,726.6 L1807.7,708.3 L1817.5,699.2 L1827.1,671.1 L1836.4,644.5 L1845.4,649.1 L1854.2,652.9 L1862.9,630.9 L1871.3,608.3 L1879.5,618.7 L1887.5,618.7 L1895.3,610.5 L1902.9,642.1 L1910.4,633.2 L1917.7,630.9 L1924.9,613.6 L1931.9,618.0 L1938.8,646.4 L1945.6,640.8 L1952.2,631.5 L1958.7,643.8 L1965.1,669.9 L1971.3,695.3 L1977.5,688.6 L1983.5,686.3 L1989.5,687.1 L1995.3,680.2 L2001.0,675.5 L2006.7,701.4 L2012.2,697.0 L2017.7,679.2 L2023.1,689.4 L2028.4,698.5 L2033.6,709.1 L2038.7,751.6 L2043.8,751.6 L2048.8,745.5 L2053.7,759.2 L2058.5,768.2 L2063.3,772.7 L2068.0,777.7 L2072.7,801.6 L2077.3,811.4 L2081.8,815.8 L2086.3,816.1 L2090.7,815.4 L2095.0,843.6 L2099.4,847.3 L2103.6,870.7 L2107.8,871.0 L2111.9,867.5 L2116.0,860.3 L2120.1,879.2 L2124.1,898.2 L2128.1,882.5 L2132.0,866.3 L2135.8,871.6 L2139.7,874.3 L2143.4,895.2 L2147.2,913.2 L2150.9,918.1 L2154.6,902.7 L2158.2,909.0 L2161.8,908.3 L2165.3,920.6 L2168.8,938.9 L2172.3,948.0 L2175.7,957.2" stroke="#00f"/>
</g>
<g id="ylabels">
<text transform="translate(297.7,181.0) scale(0.9650,1)" font-size="66.67" text-anchor="end">−11</text>
<text transform="translate(297.7,285.9) scale(0.9650,1)" font-size="66.67" text-anchor="end">−11.5</text>
<text transform="translate(297.7,390.7) scale(0.9650,1)" font-size="66.67" text-anchor="end">−12</text>
<text transform="translate(297.7,495.6) scale(0.9650,1)" font-size="66.67" text-anchor="end">−12.5</text>
<text transform="translate(297.7,600.5) scale(0.9650,1)" font-size="66.67" text-anchor="end">−13</text>
<text transform="translate(297.7,705.3) scale(0.9650,1)" font-size="66.67" text-anchor="end">−13.5</text>
<text transform="translate(297.7,810.2) scale(0.9650,1)" font-size="66.67" text-anchor="end">−14</text>
<text transform="translate(297.7,915.1) scale(0.9650,1)" font-size="66.67" text-anchor="end">−14.5</text>
<text transform="translate(297.7,1019.9) scale(0.9650,1)" font-size="66.67" text-anchor="end">−15</text>
<text transform="translate(297.7,1124.8) scale(0.9650,1)" font-size="66.67" text-anchor="end">−15.5</text>
<text transform="translate(297.7,1229.6) scale(0.9650,1)" font-size="66.67" text-anchor="end">−16</text>
<text transform="translate(297.7,1334.5) scale(0.9650,1)" font-size="66.67" text-anchor="end">−16.5</text>
<text transform="translate(297.7,1439.4) scale(0.9650,1)" font-size="66.67" text-anchor="end">−17</text>
<text transform="translate(297.7,1544.2) scale(0.9650,1)" font-size="66.67" text-anchor="end">−17.5</text>
<text transform="translate(297.7,1649.1) scale(0.9650,1)" font-size="66.67" text-anchor="end">−18</text>
</g>
<g id="xlabels">
<text transform="translate(303.0,1721.5) scale(0.9650,1)" font-size="66.67">10</text>
<text transform="translate(373.9,1681.0) scale(0.9650,1)" font-size="44.45">0</text>
<text transform="translate(1095.7,1721.5) scale(0.9650,1)" font-size="66.67">10</text>
<text transform="translate(1166.6,1681.0) scale(0.9650,1)" font-size="44.45">1</text>
<text transform="translate(1888.4,1721.5) scale(0.9650,1)" font-size="66.67">10</text>
<text transform="translate(1959.3,1681.0) scale(0.9650,1)" font-size="44.45">2</text>
</g>
<text id="title" transform="translate(563.0,107.0) scale(0.9653,1)" font-size="66.67">HV / sqrt(HH*VV) [dB] versus distance from eye</text>
<text id="xlabel" transform="translate(916.3,1791.9) scale(0.9658,1)" font-size="66.67">Distance from eye [km]</text>
<text id="ylabel" transform="translate(97.1,1299.0) rotate(-90) scale(0.9656,1)" font-size="66.67">Cross−pol Co−pol Ratio [dB]</text>
<g id="legend">
<rect x="1314" y="1221" width="697" height="309" fill="#fff" stroke="#000" stroke-width="4" shape-rendering="crispEdges"/>
<rect x="1346" y="1272.0" width="166" height="12" fill="#000" shape-rendering="crispEdges"/>
<text transform="translate(1529.2,1301.9) scale(0.9620,1)" font-size="66.67">Noul/01438_D</text>
<rect x="1346" y="1369.0" width="166" height="12" fill="#f00" shape-rendering="crispEdges"/>
<text transform="translate(1529.2,1397.8) scale(0.9620,1)" font-size="66.67">Quang/01292_D</text>
<rect x="1346" y="1466.0" width="166" height="12" fill="#00f" shape-rendering="crispEdges"/>
<text transform="translate(1529.2,1495.0) scale(0.9620,1)" font-size="66.67">Blanca/0857_D</text>
</g>
</svg></body></html>
